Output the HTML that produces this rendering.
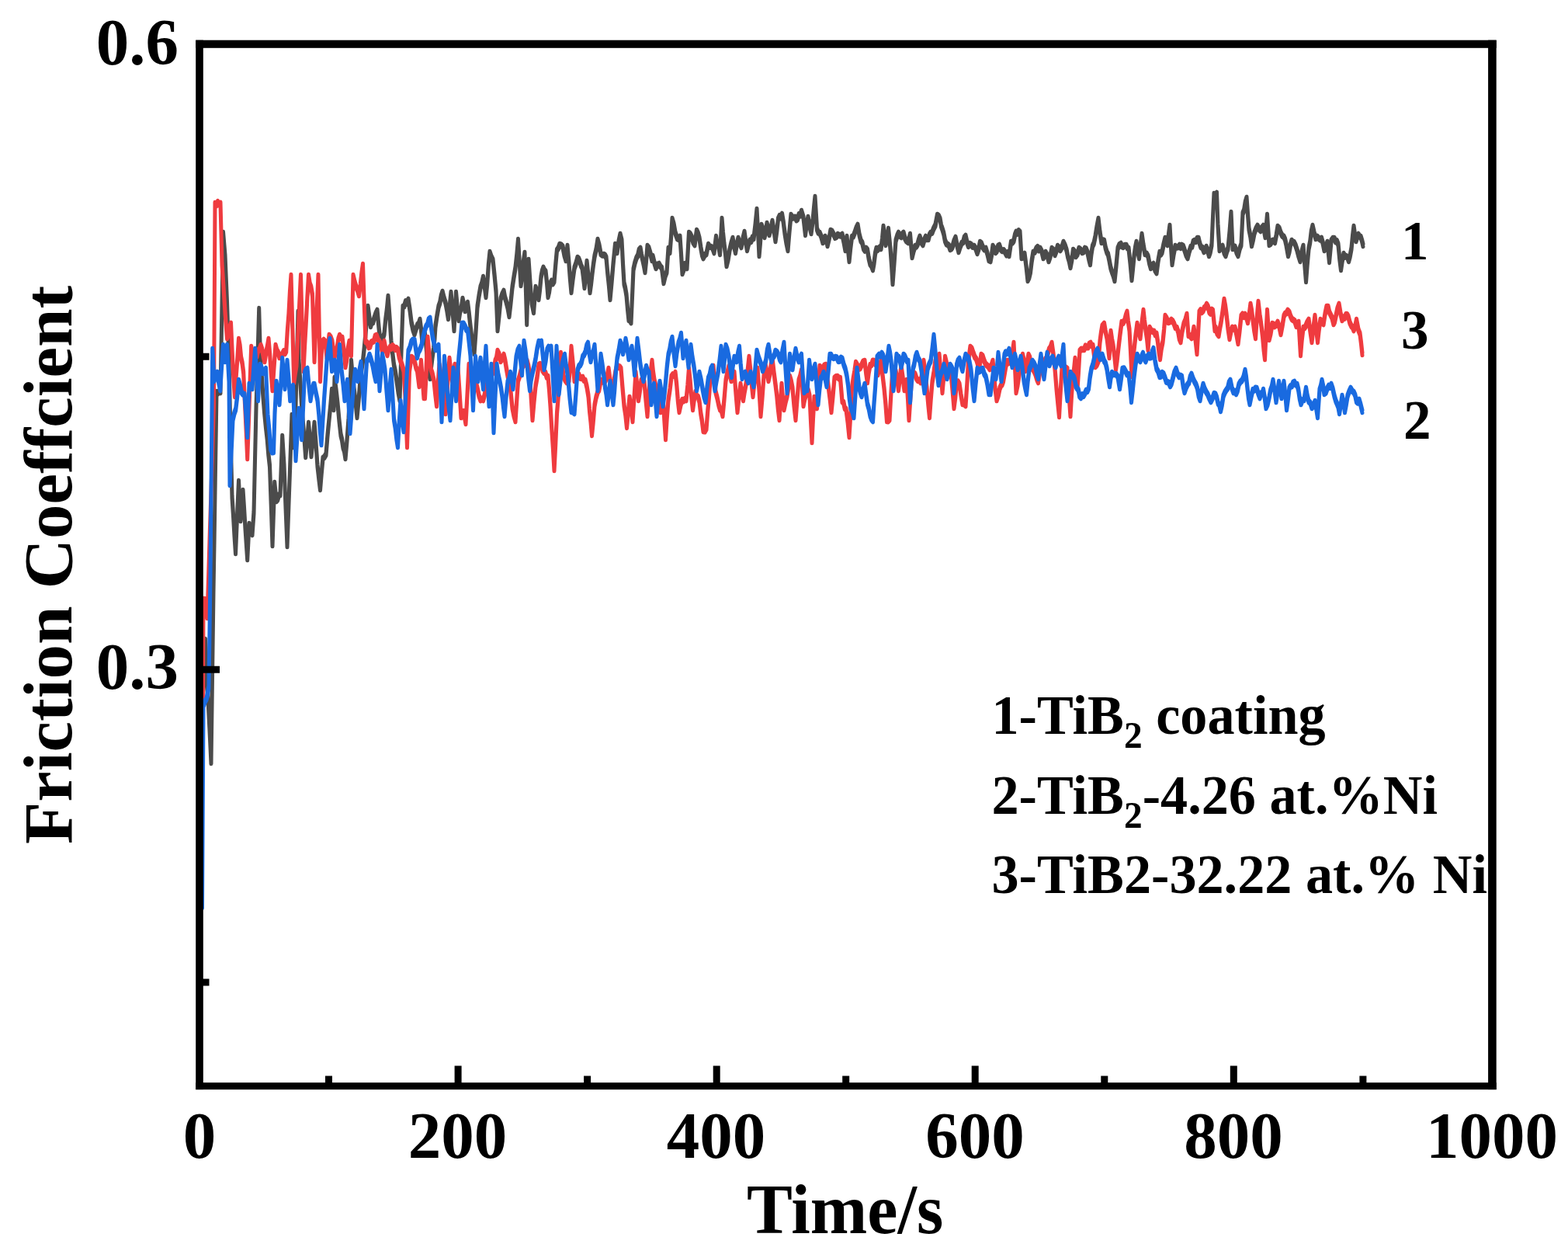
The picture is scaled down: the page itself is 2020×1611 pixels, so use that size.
<!DOCTYPE html>
<html><head><meta charset="utf-8">
<style>
html,body{margin:0;padding:0;background:#fff;}
body{width:2020px;height:1611px;overflow:hidden;}
svg{display:block;}
text{font-family:"Liberation Serif","Times New Roman",serif;font-weight:bold;fill:#000;}
</style></head><body>
<svg width="2020" height="1611" viewBox="0 0 2020 1611">
<rect width="2020" height="1611" fill="#fff"/>
<!-- DATA -->
<g fill="none" stroke-width="5.0" stroke-linejoin="round" stroke-linecap="round">
<path stroke="#4b4b4b" d="M261.5,898.2 263.0,858.9 264.5,822.2 266.2,861.2 268.0,898.2 270.0,937.4 272.0,980.2 273.5,870.0 275.0,758.2 276.0,698.2 277.5,599.1 279.0,503.2 280.7,504.5 282.3,502.4 284.0,503.2 285.8,402.3 287.5,298.2 290.0,328.2 292.5,388.2 295.0,463.2 297.0,558.2 299.0,638.2 300.5,661.4 302.0,687.6 303.5,710.2 305.5,663.4 307.5,618.2 310.0,668.2 311.5,650.1 313.0,630.2 314.5,652.8 316.0,678.2 318.7,718.2 321.0,673.2 323.0,681.8 325.0,686.2 327.0,658.2 328.5,589.8 330.0,523.2 331.9,460.8 333.7,396.2 335.5,460.2 337.1,480.9 338.7,505.2 340.6,529.0 342.5,548.2 344.2,563.2 345.8,582.9 347.5,598.2 349.2,646.8 351.0,700.2 353.7,620.2 356.0,643.2 357.7,641.3 359.3,635.7 361.0,635.2 363.7,560.2 366.0,598.2 368.0,650.9 370.0,701.2 371.9,648.7 373.7,598.2 376.0,533.2 377.5,573.2 380.0,558.2 382.0,480.1 384.0,400.2 385.0,463.2 386.7,487.0 388.3,515.3 390.0,538.2 391.9,561.2 393.7,586.2 395.6,566.4 397.5,543.2 399.2,562.4 401.0,585.2 403.0,565.5 405.0,543.2 407.0,569.1 409.0,598.2 410.8,614.0 412.5,628.2 414.2,607.4 416.0,588.2 418.0,586.8 420.0,583.2 422.0,558.8 424.0,538.2 425.8,520.6 427.5,500.2 430.0,525.2 431.0,485.2 433.0,500.5 435.0,518.2 437.0,539.9 439.0,558.2 440.5,564.2 442.0,574.4 443.5,578.6 445.0,588.2 447.0,565.1 449.0,538.2 450.8,499.6 452.5,463.2 454.2,482.4 456.0,498.2 458.0,515.1 460.0,535.2 462.0,513.9 464.0,488.2 465.8,473.8 467.5,463.2 469.2,446.9 471.0,428.2 472.5,408.3 474.0,393.2 475.8,406.6 477.5,418.2 479.0,413.4 480.5,413.5 482.0,408.2 484.0,402.2 486.0,398.2 488.0,419.7 490.0,438.2 491.7,434.1 493.3,433.4 495.0,428.2 496.7,410.2 498.3,397.9 500.0,380.2 502.0,407.0 504.0,438.2 505.8,454.4 507.5,468.2 509.2,476.3 511.0,488.2 513.0,502.4 515.0,513.2 517.0,451.5 519.0,393.2 520.8,392.4 522.5,386.6 524.2,388.8 526.0,384.2 528.0,397.2 530.0,413.2 532.0,422.5 534.0,428.2 536.0,421.4 538.0,416.2 539.5,415.1 541.0,410.2 542.5,422.4 544.0,438.2 545.8,435.6 547.5,428.2 549.2,446.1 551.0,468.2 552.5,477.9 554.0,485.2 555.5,470.3 557.0,458.2 558.5,447.5 560.0,433.2 561.0,418.2 563.0,404.9 565.0,393.2 566.7,388.4 568.3,379.5 570.0,374.2 572.0,382.1 574.0,388.2 575.8,397.4 577.5,408.2 579.2,393.7 581.0,375.2 583.0,398.3 585.0,423.2 587.5,375.2 589.2,393.8 591.0,410.2 592.7,399.8 594.3,394.4 596.0,383.2 597.5,389.8 599.0,398.2 600.8,394.7 602.5,388.2 604.2,401.6 606.0,418.2 607.7,432.1 609.3,439.4 611.0,453.2 613.0,425.4 615.0,393.2 617.0,379.5 619.0,368.2 620.8,363.1 622.5,355.2 624.2,366.4 626.0,380.2 627.7,363.4 629.3,339.9 631.0,323.2 633.0,329.2 635.0,333.2 637.0,352.2 639.0,373.2 641.0,423.2 643.0,404.3 645.0,383.2 647.0,377.1 649.0,373.2 650.5,381.2 652.0,386.2 654.0,394.0 656.0,405.2 658.0,387.9 660.0,368.2 662.0,355.0 664.0,343.2 665.8,326.6 667.5,307.2 669.2,334.9 671.0,365.2 672.7,353.2 674.3,335.5 676.0,324.2 678.7,415.2 681.0,333.2 683.0,362.6 685.0,388.2 687.5,400.2 690.0,368.2 692.0,374.1 694.0,383.2 695.5,371.0 697.0,355.2 698.5,347.3 700.0,343.2 701.5,346.5 703.0,348.2 704.5,362.0 706.0,380.2 707.5,373.7 709.0,363.2 710.7,360.0 712.3,363.3 714.0,360.2 715.8,338.8 717.5,320.2 719.2,318.1 721.0,313.2 723.0,313.8 725.0,316.2 727.0,326.5 729.0,333.2 731.0,315.2 732.7,334.0 734.3,355.4 736.0,374.2 738.0,357.6 740.0,343.2 742.0,337.7 744.0,330.2 745.5,331.4 747.0,335.2 748.5,340.0 750.0,343.2 751.5,355.0 753.0,368.2 754.5,352.7 756.0,335.2 758.0,353.8 760.0,374.2 761.5,363.5 763.0,350.2 764.5,338.4 766.0,328.2 768.0,319.9 770.0,307.2 772.0,314.4 774.0,325.2 776.0,326.7 778.0,326.2 779.5,327.1 781.0,330.2 782.7,349.2 784.3,364.2 786.0,383.2 788.0,361.6 790.0,338.2 792.5,313.2 795.0,323.2 797.0,309.6 799.0,300.2 801.0,308.2 802.5,338.1 804.0,363.2 805.5,369.2 807.0,378.2 808.5,395.7 810.0,410.2 811.5,410.8 813.0,413.2 814.5,380.1 816.0,345.2 818.0,336.4 820.0,330.2 821.7,327.4 823.3,320.1 825.0,318.2 826.5,326.7 828.0,333.2 829.5,339.9 831.0,348.2 832.5,334.0 834.0,315.2 835.8,317.6 837.5,323.2 840.0,333.2 841.0,328.2 843.0,336.7 845.0,343.2 847.0,339.1 849.0,338.2 850.8,341.5 852.5,343.2 855.0,362.2 857.0,353.6 859.0,348.2 861.0,318.2 863.0,323.2 864.5,304.1 866.0,280.2 868.0,287.0 870.0,298.2 872.5,305.2 874.2,306.1 876.0,303.2 877.5,325.5 879.0,350.2 880.8,345.5 882.5,338.2 885.0,343.2 887.5,298.2 889.2,299.7 891.0,303.2 893.0,310.2 895.0,313.2 897.5,295.2 899.2,298.6 901.0,305.2 903.0,318.2 904.5,326.2 906.0,330.2 908.0,326.4 910.0,325.2 912.5,313.2 914.2,315.8 916.0,316.2 918.0,317.6 920.0,323.2 922.5,303.2 924.2,312.9 925.8,315.7 927.5,325.2 930.0,280.2 931.5,298.8 933.0,313.2 934.5,324.6 936.0,340.2 938.0,332.2 940.0,320.2 942.0,311.6 944.0,305.2 945.8,315.8 947.5,323.2 949.2,312.9 951.0,305.2 953.0,311.5 955.0,316.2 957.0,305.9 959.0,297.2 960.8,309.9 962.5,320.2 964.2,313.0 966.0,308.2 967.7,309.1 969.3,303.9 971.0,305.2 973.0,288.2 975.0,268.2 976.5,295.4 978.0,327.2 979.5,310.1 981.0,288.2 983.0,293.4 985.0,303.2 986.5,296.0 988.0,286.2 989.5,292.1 991.0,300.2 993.0,292.8 995.0,283.2 997.0,294.6 999.0,308.2 1000.8,295.3 1002.5,280.2 1004.2,276.4 1005.8,278.4 1007.5,274.2 1009.2,284.1 1011.0,298.2 1013.0,310.7 1015.0,320.2 1017.0,295.9 1019.0,275.2 1021.0,278.8 1023.0,278.2 1024.5,278.0 1026.0,281.4 1027.5,280.2 1029.2,274.6 1030.8,275.6 1032.5,270.2 1035.0,278.2 1037.5,300.2 1039.2,287.2 1041.0,278.2 1043.0,289.7 1045.0,298.2 1047.0,283.2 1048.5,266.7 1050.0,252.2 1052.5,293.2 1054.2,297.7 1056.0,298.2 1058.0,302.9 1060.0,310.2 1061.5,308.8 1063.0,303.2 1064.5,306.3 1066.0,314.2 1068.0,306.1 1070.0,295.2 1072.0,296.3 1074.0,300.2 1075.8,304.0 1077.5,303.2 1079.2,300.3 1081.0,301.2 1083.0,301.7 1085.0,300.2 1087.0,309.3 1089.0,320.2 1091.0,303.2 1092.5,319.7 1094.0,334.2 1095.8,316.5 1097.5,303.2 1099.2,302.8 1101.0,298.2 1103.0,292.2 1105.0,288.2 1107.0,300.3 1109.0,308.2 1110.8,310.8 1112.5,318.2 1114.2,320.7 1115.8,318.2 1117.5,320.2 1119.2,330.8 1121.0,338.2 1122.8,340.8 1124.5,345.2 1126.0,336.9 1127.5,324.8 1129.0,318.2 1130.5,320.0 1132.0,318.2 1133.5,316.6 1135.0,318.2 1136.5,306.5 1138.0,290.2 1139.5,300.3 1141.0,313.2 1142.8,305.4 1144.5,293.2 1147.0,318.2 1148.5,338.6 1150.0,363.2 1152.0,336.8 1154.0,308.2 1155.8,302.1 1157.5,298.2 1159.2,301.9 1161.0,303.2 1162.5,299.6 1164.0,298.2 1165.8,304.9 1167.5,308.2 1170.0,310.2 1172.5,300.2 1175.0,329.2 1177.0,321.0 1179.0,315.2 1180.5,315.6 1182.0,313.2 1183.5,307.3 1185.0,303.2 1187.0,310.4 1189.0,313.2 1190.8,306.9 1192.5,303.2 1194.2,306.2 1196.0,306.2 1197.5,300.5 1199.0,298.2 1200.8,297.9 1202.5,293.2 1205.0,288.2 1207.5,275.2 1209.2,276.3 1211.0,280.2 1212.5,289.0 1214.0,293.2 1215.8,299.1 1217.5,308.2 1219.2,312.3 1221.0,313.2 1222.5,314.6 1224.0,319.2 1225.5,318.5 1227.0,316.2 1229.0,308.7 1231.0,304.2 1233.0,314.2 1235.0,322.2 1237.0,316.0 1239.0,311.2 1240.7,310.3 1242.3,304.2 1244.0,302.2 1245.8,310.2 1247.5,315.2 1249.2,312.3 1251.0,313.2 1253.0,315.9 1255.0,315.2 1257.0,318.4 1259.0,324.2 1260.8,318.8 1262.5,310.2 1264.2,311.5 1266.0,316.2 1268.0,319.2 1270.0,318.2 1272.0,324.8 1274.0,333.2 1276.0,334.2 1277.5,326.4 1279.0,315.2 1280.8,318.1 1282.5,323.2 1284.2,321.4 1285.8,315.2 1287.5,314.2 1289.2,319.3 1291.0,321.2 1293.0,320.5 1295.0,323.2 1296.7,326.5 1298.3,323.6 1300.0,327.2 1302.5,310.2 1304.2,310.7 1306.0,308.2 1307.5,301.0 1309.0,297.2 1310.7,298.8 1312.3,295.6 1314.0,297.2 1316.0,330.2 1318.0,329.6 1320.0,325.2 1322.0,340.7 1324.0,359.2 1325.8,355.3 1327.5,348.2 1329.2,334.2 1331.0,323.2 1333.0,323.0 1335.0,318.2 1336.7,316.3 1338.3,320.4 1340.0,318.2 1342.0,321.9 1344.0,330.2 1345.5,327.9 1347.0,323.2 1349.0,327.0 1351.0,334.2 1353.0,328.5 1355.0,318.2 1357.0,320.1 1359.0,326.2 1360.8,321.7 1362.5,315.2 1364.2,316.8 1366.0,320.2 1368.0,316.7 1370.0,310.2 1372.0,314.4 1374.0,320.2 1375.7,328.7 1377.3,334.0 1379.0,342.2 1380.8,333.0 1382.5,320.2 1384.2,322.2 1386.0,328.2 1388.0,325.4 1390.0,318.2 1392.0,319.7 1394.0,323.2 1395.8,322.6 1397.5,318.2 1399.2,318.9 1401.0,323.2 1402.8,331.7 1404.5,338.2 1406.0,324.5 1407.5,315.2 1409.2,311.5 1411.0,303.2 1413.0,290.6 1415.0,280.2 1417.0,297.5 1419.0,310.2 1420.8,307.8 1422.5,308.2 1424.2,317.2 1426.0,323.2 1427.5,325.8 1429.0,333.2 1430.8,342.8 1432.5,348.2 1434.2,352.7 1436.0,359.2 1438.0,340.1 1440.0,318.2 1442.0,313.6 1444.0,312.2 1445.5,315.5 1447.0,316.2 1449.0,314.2 1451.0,314.2 1452.5,317.5 1454.0,318.2 1456.0,336.3 1458.0,358.2 1459.5,344.0 1461.0,328.2 1462.5,317.5 1464.0,310.2 1465.8,321.7 1467.5,330.2 1469.2,314.4 1471.0,300.2 1473.0,314.0 1475.0,325.2 1477.0,324.9 1479.0,328.2 1480.8,337.3 1482.5,343.2 1484.2,339.9 1486.0,338.2 1488.0,346.1 1490.0,349.2 1492.0,334.2 1494.0,323.2 1495.5,325.6 1497.0,323.2 1499.0,313.3 1501.0,305.2 1502.5,310.4 1504.0,313.2 1505.5,300.4 1507.0,289.2 1508.5,315.7 1510.0,338.2 1512.0,325.5 1514.0,315.2 1516.0,316.6 1518.0,316.2 1519.5,314.1 1521.0,317.1 1522.5,314.2 1524.2,315.1 1526.0,320.2 1528.0,326.4 1530.0,330.2 1532.0,322.2 1534.0,316.2 1535.7,315.8 1537.3,309.2 1539.0,308.2 1540.7,309.1 1542.3,305.3 1544.0,305.2 1545.5,311.5 1547.0,316.2 1549.0,317.3 1551.0,322.2 1552.5,320.6 1554.0,316.2 1555.8,320.9 1557.5,327.2 1559.2,322.5 1561.0,313.2 1562.5,278.9 1564.0,248.2 1565.8,249.8 1567.5,247.2 1569.0,288.2 1571.0,320.2 1573.0,316.8 1575.0,315.2 1577.0,323.4 1579.0,327.2 1580.5,321.9 1582.0,318.2 1584.0,297.4 1586.0,272.2 1588.0,318.2 1589.5,315.7 1591.0,316.2 1593.0,323.0 1595.0,327.2 1597.0,318.6 1599.0,313.2 1601.0,273.2 1602.7,268.8 1604.3,258.7 1606.0,253.2 1607.5,274.1 1609.0,293.2 1610.8,302.1 1612.5,314.2 1614.2,307.3 1616.0,298.2 1618.0,292.8 1620.0,289.2 1622.0,293.2 1624.0,295.2 1625.8,291.4 1627.5,289.2 1630.0,303.2 1632.5,275.2 1635.0,313.2 1637.0,311.8 1639.0,308.2 1640.8,308.0 1642.5,310.2 1644.2,301.4 1646.0,290.2 1648.0,292.2 1650.0,298.2 1652.0,301.9 1654.0,303.2 1655.5,306.6 1657.0,313.2 1659.5,327.2 1661.0,321.9 1662.5,313.2 1664.0,308.2 1665.5,310.0 1667.0,310.2 1669.0,314.1 1671.0,320.2 1673.0,327.9 1675.0,334.2 1677.0,322.7 1679.0,315.2 1680.8,339.3 1682.5,360.2 1684.2,338.2 1686.0,318.2 1687.7,310.1 1689.3,296.6 1691.0,289.2 1693.0,298.1 1695.0,305.2 1697.0,303.1 1699.0,305.2 1700.8,306.6 1702.5,305.2 1704.2,311.1 1706.0,320.2 1708.0,317.3 1710.0,310.2 1712.5,335.2 1715.0,308.2 1717.0,305.3 1719.0,305.2 1720.7,309.4 1722.3,308.7 1724.0,313.2 1725.8,331.6 1727.5,345.2 1729.2,333.9 1731.0,325.2 1732.5,328.8 1734.0,328.2 1735.8,329.3 1737.5,334.2 1739.2,328.0 1741.0,318.2 1742.5,302.8 1744.0,290.2 1745.5,300.5 1747.0,308.2 1748.5,303.4 1750.0,300.2 1751.5,302.6 1753.0,303.2 1754.5,307.9 1756.0,314.2 M261.5,901.8 263.0,862.5 264.5,825.8 266.2,864.8 268.0,901.8 270.0,941.0 272.0,983.8 273.5,873.6 275.0,761.8 276.0,701.8 277.5,602.7 279.0,506.8 280.7,508.1 282.3,506.0 284.0,506.8 285.8,405.9 287.5,301.8 290.0,331.8 292.5,391.8 295.0,466.8 297.0,561.8 299.0,641.8 300.5,665.0 302.0,691.2 303.5,713.8 305.5,667.0 307.5,621.8 310.0,671.8 311.5,653.7 313.0,633.8 314.5,656.4 316.0,681.8 318.7,721.8 321.0,676.8 323.0,685.4 325.0,689.8 327.0,661.8 328.5,593.4 330.0,526.8 331.9,464.4 333.7,399.8 335.5,463.8 337.1,484.5 338.7,508.8 340.6,532.6 342.5,551.8 344.2,566.8 345.8,586.5 347.5,601.8 349.2,650.4 351.0,703.8 353.7,623.8 356.0,646.8 357.7,644.9 359.3,639.3 361.0,638.8 363.7,563.8 366.0,601.8 368.0,654.5 370.0,704.8 371.9,652.3 373.7,601.8 376.0,536.8 377.5,576.8 380.0,561.8 382.0,483.7 384.0,403.8 385.0,466.8 386.7,490.6 388.3,518.9 390.0,541.8 391.9,564.8 393.7,589.8 395.6,570.0 397.5,546.8 399.2,566.0 401.0,588.8 403.0,569.1 405.0,546.8 407.0,572.7 409.0,601.8 410.8,617.6 412.5,631.8 414.2,611.0 416.0,591.8 418.0,590.4 420.0,586.8 422.0,562.4 424.0,541.8 425.8,524.2 427.5,503.8 430.0,528.8 431.0,488.8 433.0,504.1 435.0,521.8 437.0,543.5 439.0,561.8 440.5,567.8 442.0,578.0 443.5,582.2 445.0,591.8 447.0,568.7 449.0,541.8 450.8,503.2 452.5,466.8 454.2,486.0 456.0,501.8 458.0,518.7 460.0,538.8 462.0,517.5 464.0,491.8 465.8,477.4 467.5,466.8 469.2,450.5 471.0,431.8 472.5,411.9 474.0,396.8 475.8,410.2 477.5,421.8 479.0,417.0 480.5,417.1 482.0,411.8 484.0,405.8 486.0,401.8 488.0,423.3 490.0,441.8 491.7,437.7 493.3,437.0 495.0,431.8 496.7,413.8 498.3,401.5 500.0,383.8 502.0,410.6 504.0,441.8 505.8,458.0 507.5,471.8 509.2,479.9 511.0,491.8 513.0,506.0 515.0,516.8 517.0,455.1 519.0,396.8 520.8,396.0 522.5,390.2 524.2,392.4 526.0,387.8 528.0,400.8 530.0,416.8 532.0,426.1 534.0,431.8 536.0,425.0 538.0,419.8 539.5,418.7 541.0,413.8 542.5,426.0 544.0,441.8 545.8,439.2 547.5,431.8 549.2,449.7 551.0,471.8 552.5,481.5 554.0,488.8 555.5,473.9 557.0,461.8 558.5,451.1 560.0,436.8 561.0,421.8 563.0,408.5 565.0,396.8 566.7,392.0 568.3,383.1 570.0,377.8 572.0,385.7 574.0,391.8 575.8,401.0 577.5,411.8 579.2,397.3 581.0,378.8 583.0,401.9 585.0,426.8 587.5,378.8 589.2,397.4 591.0,413.8 592.7,403.4 594.3,398.0 596.0,386.8 597.5,393.4 599.0,401.8 600.8,398.3 602.5,391.8 604.2,405.2 606.0,421.8 607.7,435.7 609.3,443.0 611.0,456.8 613.0,429.0 615.0,396.8 617.0,383.1 619.0,371.8 620.8,366.7 622.5,358.8 624.2,370.0 626.0,383.8 627.7,367.0 629.3,343.5 631.0,326.8 633.0,332.8 635.0,336.8 637.0,355.8 639.0,376.8 641.0,426.8 643.0,407.9 645.0,386.8 647.0,380.7 649.0,376.8 650.5,384.8 652.0,389.8 654.0,397.6 656.0,408.8 658.0,391.5 660.0,371.8 662.0,358.6 664.0,346.8 665.8,330.2 667.5,310.8 669.2,338.5 671.0,368.8 672.7,356.8 674.3,339.1 676.0,327.8 678.7,418.8 681.0,336.8 683.0,366.2 685.0,391.8 687.5,403.8 690.0,371.8 692.0,377.7 694.0,386.8 695.5,374.6 697.0,358.8 698.5,350.9 700.0,346.8 701.5,350.1 703.0,351.8 704.5,365.6 706.0,383.8 707.5,377.3 709.0,366.8 710.7,363.6 712.3,366.9 714.0,363.8 715.8,342.4 717.5,323.8 719.2,321.7 721.0,316.8 723.0,317.4 725.0,319.8 727.0,330.1 729.0,336.8 731.0,318.8 732.7,337.6 734.3,359.0 736.0,377.8 738.0,361.2 740.0,346.8 742.0,341.3 744.0,333.8 745.5,335.0 747.0,338.8 748.5,343.6 750.0,346.8 751.5,358.6 753.0,371.8 754.5,356.3 756.0,338.8 758.0,357.4 760.0,377.8 761.5,367.1 763.0,353.8 764.5,342.0 766.0,331.8 768.0,323.5 770.0,310.8 772.0,318.0 774.0,328.8 776.0,330.3 778.0,329.8 779.5,330.7 781.0,333.8 782.7,352.8 784.3,367.8 786.0,386.8 788.0,365.2 790.0,341.8 792.5,316.8 795.0,326.8 797.0,313.2 799.0,303.8 801.0,311.8 802.5,341.7 804.0,366.8 805.5,372.8 807.0,381.8 808.5,399.3 810.0,413.8 811.5,414.4 813.0,416.8 814.5,383.7 816.0,348.8 818.0,340.0 820.0,333.8 821.7,331.0 823.3,323.7 825.0,321.8 826.5,330.3 828.0,336.8 829.5,343.5 831.0,351.8 832.5,337.6 834.0,318.8 835.8,321.2 837.5,326.8 840.0,336.8 841.0,331.8 843.0,340.3 845.0,346.8 847.0,342.7 849.0,341.8 850.8,345.1 852.5,346.8 855.0,365.8 857.0,357.2 859.0,351.8 861.0,321.8 863.0,326.8 864.5,307.7 866.0,283.8 868.0,290.6 870.0,301.8 872.5,308.8 874.2,309.7 876.0,306.8 877.5,329.1 879.0,353.8 880.8,349.1 882.5,341.8 885.0,346.8 887.5,301.8 889.2,303.3 891.0,306.8 893.0,313.8 895.0,316.8 897.5,298.8 899.2,302.2 901.0,308.8 903.0,321.8 904.5,329.8 906.0,333.8 908.0,330.0 910.0,328.8 912.5,316.8 914.2,319.4 916.0,319.8 918.0,321.2 920.0,326.8 922.5,306.8 924.2,316.5 925.8,319.3 927.5,328.8 930.0,283.8 931.5,302.4 933.0,316.8 934.5,328.2 936.0,343.8 938.0,335.8 940.0,323.8 942.0,315.2 944.0,308.8 945.8,319.4 947.5,326.8 949.2,316.5 951.0,308.8 953.0,315.1 955.0,319.8 957.0,309.5 959.0,300.8 960.8,313.5 962.5,323.8 964.2,316.6 966.0,311.8 967.7,312.7 969.3,307.5 971.0,308.8 973.0,291.8 975.0,271.8 976.5,299.0 978.0,330.8 979.5,313.7 981.0,291.8 983.0,297.0 985.0,306.8 986.5,299.6 988.0,289.8 989.5,295.7 991.0,303.8 993.0,296.4 995.0,286.8 997.0,298.2 999.0,311.8 1000.8,298.9 1002.5,283.8 1004.2,280.0 1005.8,282.0 1007.5,277.8 1009.2,287.7 1011.0,301.8 1013.0,314.3 1015.0,323.8 1017.0,299.5 1019.0,278.8 1021.0,282.4 1023.0,281.8 1024.5,281.6 1026.0,285.0 1027.5,283.8 1029.2,278.2 1030.8,279.2 1032.5,273.8 1035.0,281.8 1037.5,303.8 1039.2,290.8 1041.0,281.8 1043.0,293.3 1045.0,301.8 1047.0,286.8 1048.5,270.3 1050.0,255.8 1052.5,296.8 1054.2,301.3 1056.0,301.8 1058.0,306.5 1060.0,313.8 1061.5,312.4 1063.0,306.8 1064.5,309.9 1066.0,317.8 1068.0,309.7 1070.0,298.8 1072.0,299.9 1074.0,303.8 1075.8,307.6 1077.5,306.8 1079.2,303.9 1081.0,304.8 1083.0,305.3 1085.0,303.8 1087.0,312.9 1089.0,323.8 1091.0,306.8 1092.5,323.3 1094.0,337.8 1095.8,320.1 1097.5,306.8 1099.2,306.4 1101.0,301.8 1103.0,295.8 1105.0,291.8 1107.0,303.9 1109.0,311.8 1110.8,314.4 1112.5,321.8 1114.2,324.3 1115.8,321.8 1117.5,323.8 1119.2,334.4 1121.0,341.8 1122.8,344.4 1124.5,348.8 1126.0,340.5 1127.5,328.4 1129.0,321.8 1130.5,323.6 1132.0,321.8 1133.5,320.2 1135.0,321.8 1136.5,310.1 1138.0,293.8 1139.5,303.9 1141.0,316.8 1142.8,309.0 1144.5,296.8 1147.0,321.8 1148.5,342.2 1150.0,366.8 1152.0,340.4 1154.0,311.8 1155.8,305.7 1157.5,301.8 1159.2,305.5 1161.0,306.8 1162.5,303.2 1164.0,301.8 1165.8,308.5 1167.5,311.8 1170.0,313.8 1172.5,303.8 1175.0,332.8 1177.0,324.6 1179.0,318.8 1180.5,319.2 1182.0,316.8 1183.5,310.9 1185.0,306.8 1187.0,314.0 1189.0,316.8 1190.8,310.5 1192.5,306.8 1194.2,309.8 1196.0,309.8 1197.5,304.1 1199.0,301.8 1200.8,301.5 1202.5,296.8 1205.0,291.8 1207.5,278.8 1209.2,279.9 1211.0,283.8 1212.5,292.6 1214.0,296.8 1215.8,302.7 1217.5,311.8 1219.2,315.9 1221.0,316.8 1222.5,318.2 1224.0,322.8 1225.5,322.1 1227.0,319.8 1229.0,312.3 1231.0,307.8 1233.0,317.8 1235.0,325.8 1237.0,319.6 1239.0,314.8 1240.7,313.9 1242.3,307.8 1244.0,305.8 1245.8,313.8 1247.5,318.8 1249.2,315.9 1251.0,316.8 1253.0,319.5 1255.0,318.8 1257.0,322.0 1259.0,327.8 1260.8,322.4 1262.5,313.8 1264.2,315.1 1266.0,319.8 1268.0,322.8 1270.0,321.8 1272.0,328.4 1274.0,336.8 1276.0,337.8 1277.5,330.0 1279.0,318.8 1280.8,321.7 1282.5,326.8 1284.2,325.0 1285.8,318.8 1287.5,317.8 1289.2,322.9 1291.0,324.8 1293.0,324.1 1295.0,326.8 1296.7,330.1 1298.3,327.2 1300.0,330.8 1302.5,313.8 1304.2,314.3 1306.0,311.8 1307.5,304.6 1309.0,300.8 1310.7,302.4 1312.3,299.2 1314.0,300.8 1316.0,333.8 1318.0,333.2 1320.0,328.8 1322.0,344.3 1324.0,362.8 1325.8,358.9 1327.5,351.8 1329.2,337.8 1331.0,326.8 1333.0,326.6 1335.0,321.8 1336.7,319.9 1338.3,324.0 1340.0,321.8 1342.0,325.5 1344.0,333.8 1345.5,331.5 1347.0,326.8 1349.0,330.6 1351.0,337.8 1353.0,332.1 1355.0,321.8 1357.0,323.7 1359.0,329.8 1360.8,325.3 1362.5,318.8 1364.2,320.4 1366.0,323.8 1368.0,320.3 1370.0,313.8 1372.0,318.0 1374.0,323.8 1375.7,332.3 1377.3,337.6 1379.0,345.8 1380.8,336.6 1382.5,323.8 1384.2,325.8 1386.0,331.8 1388.0,329.0 1390.0,321.8 1392.0,323.3 1394.0,326.8 1395.8,326.2 1397.5,321.8 1399.2,322.5 1401.0,326.8 1402.8,335.3 1404.5,341.8 1406.0,328.1 1407.5,318.8 1409.2,315.1 1411.0,306.8 1413.0,294.2 1415.0,283.8 1417.0,301.1 1419.0,313.8 1420.8,311.4 1422.5,311.8 1424.2,320.8 1426.0,326.8 1427.5,329.4 1429.0,336.8 1430.8,346.4 1432.5,351.8 1434.2,356.3 1436.0,362.8 1438.0,343.7 1440.0,321.8 1442.0,317.2 1444.0,315.8 1445.5,319.1 1447.0,319.8 1449.0,317.8 1451.0,317.8 1452.5,321.1 1454.0,321.8 1456.0,339.9 1458.0,361.8 1459.5,347.6 1461.0,331.8 1462.5,321.1 1464.0,313.8 1465.8,325.3 1467.5,333.8 1469.2,318.0 1471.0,303.8 1473.0,317.6 1475.0,328.8 1477.0,328.5 1479.0,331.8 1480.8,340.9 1482.5,346.8 1484.2,343.5 1486.0,341.8 1488.0,349.7 1490.0,352.8 1492.0,337.8 1494.0,326.8 1495.5,329.2 1497.0,326.8 1499.0,316.9 1501.0,308.8 1502.5,314.0 1504.0,316.8 1505.5,304.0 1507.0,292.8 1508.5,319.3 1510.0,341.8 1512.0,329.1 1514.0,318.8 1516.0,320.2 1518.0,319.8 1519.5,317.7 1521.0,320.7 1522.5,317.8 1524.2,318.7 1526.0,323.8 1528.0,330.0 1530.0,333.8 1532.0,325.8 1534.0,319.8 1535.7,319.4 1537.3,312.8 1539.0,311.8 1540.7,312.7 1542.3,308.9 1544.0,308.8 1545.5,315.1 1547.0,319.8 1549.0,320.9 1551.0,325.8 1552.5,324.2 1554.0,319.8 1555.8,324.5 1557.5,330.8 1559.2,326.1 1561.0,316.8 1562.5,282.5 1564.0,251.8 1565.8,253.4 1567.5,250.8 1569.0,291.8 1571.0,323.8 1573.0,320.4 1575.0,318.8 1577.0,327.0 1579.0,330.8 1580.5,325.5 1582.0,321.8 1584.0,301.0 1586.0,275.8 1588.0,321.8 1589.5,319.3 1591.0,319.8 1593.0,326.6 1595.0,330.8 1597.0,322.2 1599.0,316.8 1601.0,276.8 1602.7,272.4 1604.3,262.3 1606.0,256.8 1607.5,277.7 1609.0,296.8 1610.8,305.7 1612.5,317.8 1614.2,310.9 1616.0,301.8 1618.0,296.4 1620.0,292.8 1622.0,296.8 1624.0,298.8 1625.8,295.0 1627.5,292.8 1630.0,306.8 1632.5,278.8 1635.0,316.8 1637.0,315.4 1639.0,311.8 1640.8,311.6 1642.5,313.8 1644.2,305.0 1646.0,293.8 1648.0,295.8 1650.0,301.8 1652.0,305.5 1654.0,306.8 1655.5,310.2 1657.0,316.8 1659.5,330.8 1661.0,325.5 1662.5,316.8 1664.0,311.8 1665.5,313.6 1667.0,313.8 1669.0,317.7 1671.0,323.8 1673.0,331.5 1675.0,337.8 1677.0,326.3 1679.0,318.8 1680.8,342.9 1682.5,363.8 1684.2,341.8 1686.0,321.8 1687.7,313.7 1689.3,300.2 1691.0,292.8 1693.0,301.7 1695.0,308.8 1697.0,306.7 1699.0,308.8 1700.8,310.2 1702.5,308.8 1704.2,314.7 1706.0,323.8 1708.0,320.9 1710.0,313.8 1712.5,338.8 1715.0,311.8 1717.0,308.9 1719.0,308.8 1720.7,313.0 1722.3,312.3 1724.0,316.8 1725.8,335.2 1727.5,348.8 1729.2,337.5 1731.0,328.8 1732.5,332.4 1734.0,331.8 1735.8,332.9 1737.5,337.8 1739.2,331.6 1741.0,321.8 1742.5,306.4 1744.0,293.8 1745.5,304.1 1747.0,311.8 1748.5,307.0 1750.0,303.8 1751.5,306.2 1753.0,306.8 1754.5,311.5 1756.0,317.8"/>
<path stroke="#ef3b3f" d="M261.5,906.2 262.0,770.2 263.8,770.2 265.5,774.2 267.0,793.2 268.7,739.3 270.4,682.2 272.1,629.1 273.8,571.1 275.5,518.2 277.0,260.2 278.8,262.4 280.5,258.4 282.2,261.4 284.0,260.2 286.0,338.2 288.0,368.1 290.0,400.2 292.5,433.2 294.2,428.4 295.8,419.7 297.5,415.2 299.2,452.7 301.0,488.2 302.5,508.2 304.2,482.4 305.8,460.7 307.5,435.2 309.1,443.6 310.6,459.1 312.1,465.8 313.7,478.2 315.4,516.0 317.0,549.2 318.7,588.2 320.4,541.8 322.0,491.5 323.7,445.2 325.6,454.9 327.5,463.2 329.2,457.8 330.9,456.7 332.6,449.6 334.3,448.3 336.0,443.2 337.7,448.3 339.3,457.3 341.0,463.2 342.7,452.7 344.3,445.4 346.0,435.2 347.7,455.5 349.3,479.3 351.0,500.2 353.0,470.9 355.0,443.2 356.7,449.4 358.3,452.1 360.0,458.2 362.0,457.4 364.0,453.2 365.6,450.6 367.1,453.2 368.7,450.2 370.3,424.1 371.9,403.6 373.4,375.3 375.0,353.2 376.9,423.1 378.7,490.2 380.4,477.9 382.0,468.2 383.8,432.2 385.7,390.6 387.5,353.2 389.2,416.1 391.0,475.2 392.6,442.9 394.2,415.0 395.9,381.6 397.5,353.2 399.2,363.8 400.8,368.1 402.5,378.2 405.0,463.2 407.0,418.2 408.5,387.7 410.0,353.2 412.5,488.2 415.0,438.2 417.0,436.1 419.0,438.2 421.0,458.2 422.5,445.2 424.0,430.2 426.0,432.6 428.0,438.2 429.5,449.8 431.0,458.2 432.6,449.1 434.2,446.3 435.9,435.1 437.5,430.2 439.2,433.4 441.0,433.2 443.0,449.5 445.0,470.2 446.7,461.4 448.3,447.0 450.0,438.2 452.5,455.2 455.0,353.2 457.0,361.8 459.0,368.2 460.8,372.4 462.5,378.2 464.2,366.1 465.8,350.9 467.5,339.2 469.2,389.6 471.0,438.2 473.0,439.6 475.0,445.2 476.7,444.5 478.3,438.8 480.0,438.2 481.7,437.3 483.3,431.0 485.0,430.2 487.0,435.7 489.0,438.2 490.8,443.5 492.5,450.2 495.0,438.2 497.0,448.8 499.0,455.2 500.8,448.2 502.5,445.2 504.2,446.8 505.8,443.6 507.5,445.2 509.2,448.0 510.8,446.4 512.5,448.2 514.2,457.7 516.0,463.2 518.0,468.1 520.0,475.2 522.0,508.2 524.5,573.2 526.0,525.0 527.5,475.2 530.0,458.2 532.0,459.5 534.0,463.2 535.8,471.1 537.5,475.2 540.0,495.2 542.5,463.2 544.2,485.6 546.0,510.2 548.0,488.7 550.0,463.2 547.5,510.2 549.2,469.3 551.0,433.2 553.0,454.7 555.0,473.2 557.0,479.3 559.0,488.2 560.8,505.7 562.5,520.2 564.2,492.3 566.0,468.2 568.0,480.2 570.0,488.2 572.0,507.4 574.0,530.2 575.7,508.7 577.3,482.7 579.0,460.2 580.8,475.2 582.5,488.2 584.2,477.1 586.0,468.2 588.0,472.7 590.0,473.2 592.0,503.0 594.0,535.2 595.5,533.4 597.0,528.2 598.5,535.0 600.0,543.2 602.0,506.5 604.0,468.2 606.0,477.0 608.0,488.2 609.5,490.0 611.0,488.2 613.0,491.3 615.0,498.2 617.0,507.6 619.0,513.2 620.8,512.0 622.5,513.2 624.2,507.3 626.0,498.2 628.0,491.7 630.0,488.2 631.7,486.4 633.3,480.6 635.0,478.2 636.5,473.4 638.0,463.1 639.5,459.6 641.0,450.2 643.0,454.4 645.0,463.2 647.0,459.9 649.0,455.2 650.8,462.7 652.5,473.2 654.2,482.8 656.0,488.2 658.0,503.4 660.0,523.2 662.0,533.2 664.0,540.2 665.8,513.0 667.5,488.2 669.2,483.3 671.0,476.2 673.0,469.9 675.0,468.2 677.0,466.8 679.0,463.2 680.8,470.0 682.5,480.2 684.2,510.2 686.0,538.2 688.0,515.1 690.0,495.2 692.0,484.0 694.0,468.2 695.8,467.3 697.5,468.2 699.2,475.3 701.0,478.2 702.7,478.3 704.3,483.7 706.0,483.2 707.5,499.8 709.0,520.2 710.7,549.0 712.3,573.3 714.0,603.2 715.8,568.2 717.5,530.2 720.0,500.2 722.5,453.2 724.2,467.4 726.0,483.2 728.0,487.4 730.0,490.2 731.5,487.7 733.0,488.2 734.5,468.2 736.0,445.2 738.0,465.5 740.0,488.2 742.0,485.2 744.0,480.2 745.7,480.6 747.3,484.8 749.0,485.2 750.7,484.1 752.3,487.9 754.0,488.2 756.0,496.2 758.0,508.2 759.5,527.0 761.0,540.6 762.5,558.2 764.2,541.5 766.0,520.2 768.0,509.8 770.0,503.2 771.7,500.4 773.3,492.0 775.0,488.2 776.7,489.5 778.3,486.8 780.0,488.2 782.0,483.1 784.0,473.2 785.8,486.5 787.5,503.2 789.2,497.0 791.0,488.2 793.0,476.8 795.0,468.2 796.7,471.0 798.3,470.7 800.0,473.2 802.0,497.6 804.0,520.2 805.8,532.1 807.5,548.2 809.2,530.4 811.0,510.2 813.0,522.9 815.0,540.2 817.0,510.3 819.0,478.2 820.8,494.5 822.5,513.2 824.2,502.3 826.0,488.2 828.0,488.2 830.0,490.2 832.0,513.0 834.0,533.2 835.8,505.9 837.5,483.2 840.0,463.2 841.5,477.9 843.0,488.2 845.0,496.1 847.0,508.2 849.0,520.0 851.0,528.2 852.5,515.9 854.0,508.2 855.8,538.0 857.5,563.2 859.2,536.6 861.0,513.2 863.0,500.1 865.0,483.2 866.7,480.7 868.3,481.8 870.0,478.2 871.7,493.4 873.3,513.5 875.0,528.2 877.0,518.9 879.0,513.2 880.7,514.4 882.3,512.4 884.0,513.2 885.8,495.5 887.5,473.2 889.2,489.6 890.8,509.4 892.5,525.2 894.2,512.9 896.0,503.2 897.7,508.4 899.3,509.2 901.0,515.2 902.7,530.2 904.3,539.4 906.0,553.2 908.0,553.5 910.0,550.2 911.7,528.3 913.3,510.5 915.0,488.2 917.0,477.8 919.0,470.2 920.5,487.7 922.0,503.2 924.0,510.7 926.0,520.2 927.7,525.6 929.3,526.6 931.0,533.2 933.0,512.3 935.0,488.2 937.0,478.1 939.0,470.2 940.5,481.4 942.0,488.2 944.0,480.8 946.0,478.2 948.0,504.7 950.0,528.2 952.0,509.7 954.0,493.2 955.8,504.2 957.5,513.2 959.2,502.3 961.0,493.2 963.0,477.0 965.0,458.2 966.7,474.0 968.3,492.7 970.0,508.2 971.5,494.5 973.0,483.2 974.5,479.9 976.0,473.2 978.0,501.0 980.0,533.2 982.0,510.2 984.0,483.2 986.0,468.2 988.0,476.8 990.0,488.2 991.7,480.3 993.3,467.9 995.0,460.2 997.0,478.1 999.0,493.2 1000.7,506.9 1002.3,524.0 1004.0,538.2 1005.5,514.5 1007.0,493.2 1008.5,511.5 1010.0,525.2 1012.0,515.8 1014.0,508.2 1015.8,497.3 1017.5,483.2 1019.2,488.9 1021.0,498.2 1023.0,520.4 1025.0,538.2 1027.0,512.1 1029.0,488.2 1030.8,482.9 1032.5,475.2 1035.0,520.2 1036.7,511.7 1038.3,506.9 1040.0,498.2 1041.5,501.7 1043.0,508.2 1044.5,540.0 1046.0,567.2 1047.5,536.6 1049.0,510.2 1050.8,518.9 1052.5,523.2 1054.2,495.9 1056.0,470.2 1058.0,472.5 1060.0,473.2 1062.0,468.8 1064.0,468.2 1065.8,485.4 1067.5,498.2 1069.2,511.7 1071.0,528.2 1073.0,508.4 1075.0,485.2 1077.0,483.5 1079.0,483.2 1080.8,485.6 1082.5,485.2 1085.0,515.2 1086.7,516.3 1088.3,524.0 1090.0,525.2 1092.0,540.5 1094.0,560.2 1095.8,531.6 1097.5,498.2 1099.2,486.1 1100.8,477.1 1102.5,465.2 1104.2,468.2 1106.0,473.2 1108.0,472.3 1110.0,468.2 1112.0,463.8 1114.0,463.2 1115.8,479.0 1117.5,490.2 1119.2,477.3 1121.0,468.2 1122.7,468.3 1124.3,462.9 1126.0,463.2 1128.0,467.2 1130.0,468.2 1131.0,480.2 1133.0,470.1 1135.0,463.2 1137.0,481.5 1139.0,498.2 1140.8,517.2 1142.5,540.2 1144.2,540.3 1146.0,538.2 1148.0,503.4 1150.0,473.2 1152.0,476.5 1154.0,476.2 1155.8,487.0 1157.5,500.2 1159.2,486.1 1161.0,470.2 1163.0,484.1 1165.0,500.2 1166.5,496.0 1168.0,488.2 1169.5,511.3 1171.0,538.2 1173.0,509.1 1175.0,478.2 1177.0,478.4 1179.0,480.2 1180.8,485.8 1182.5,488.2 1184.2,487.5 1186.0,490.2 1188.0,478.1 1190.0,463.2 1192.0,479.6 1194.0,498.2 1195.8,518.4 1197.5,535.2 1199.2,512.0 1201.0,490.2 1203.0,477.9 1205.0,463.2 1206.7,459.0 1208.3,460.2 1210.0,455.2 1212.0,477.4 1214.0,503.2 1215.8,482.9 1217.5,458.2 1219.2,465.2 1221.0,475.2 1223.0,477.8 1225.0,478.2 1227.0,499.6 1229.0,523.2 1230.8,509.0 1232.5,490.2 1234.2,489.8 1236.0,493.2 1238.0,506.9 1240.0,518.2 1242.0,518.4 1244.0,520.2 1245.8,493.3 1247.5,463.2 1250.0,445.2 1252.0,447.3 1254.0,453.2 1255.8,458.1 1257.5,460.2 1259.2,465.5 1261.0,473.2 1262.5,466.0 1264.0,455.2 1266.0,456.9 1268.0,463.2 1269.5,466.8 1271.0,468.2 1273.0,469.9 1275.0,473.2 1277.0,469.5 1279.0,463.2 1280.5,479.3 1282.0,498.2 1284.0,513.2 1286.0,507.6 1288.0,498.2 1289.5,494.6 1291.0,493.2 1292.5,488.8 1294.0,480.2 1295.8,469.7 1297.5,463.2 1299.0,465.4 1300.5,463.5 1302.0,465.2 1304.0,455.0 1306.0,440.2 1307.5,470.5 1309.0,503.2 1311.0,493.8 1313.0,480.2 1314.5,470.8 1316.0,464.6 1317.5,455.2 1319.2,463.2 1321.0,475.2 1323.0,466.4 1325.0,455.2 1326.7,458.9 1328.3,468.8 1330.0,473.2 1332.0,475.7 1334.0,480.2 1335.8,486.3 1337.5,490.2 1339.2,480.3 1341.0,473.2 1343.0,472.5 1345.0,468.2 1346.7,460.9 1348.3,459.2 1350.0,453.2 1351.7,447.5 1353.3,445.6 1355.0,440.2 1357.0,454.3 1359.0,473.2 1361.0,498.2 1362.8,517.2 1364.5,534.2 1366.2,502.9 1368.0,473.2 1369.5,474.0 1371.0,473.2 1373.0,471.8 1375.0,473.2 1377.0,505.4 1379.0,533.2 1380.5,507.0 1382.0,485.2 1383.5,474.7 1385.0,460.2 1386.5,476.8 1388.0,498.2 1389.5,476.5 1391.0,450.2 1393.0,447.9 1395.0,448.2 1396.7,448.2 1398.3,443.9 1400.0,445.2 1401.7,445.5 1403.3,441.1 1405.0,440.2 1406.5,443.5 1408.0,443.2 1409.5,455.3 1411.0,470.2 1413.0,468.0 1415.0,463.2 1417.0,438.2 1418.5,426.9 1420.0,418.2 1422.5,415.2 1424.2,425.2 1426.0,433.2 1427.5,445.0 1429.0,458.2 1431.0,425.2 1432.5,435.4 1434.0,443.2 1435.8,456.9 1437.5,473.2 1439.2,461.5 1441.0,445.2 1443.0,428.3 1445.0,413.2 1447.0,414.0 1449.0,410.2 1450.5,404.1 1452.0,400.2 1453.5,413.0 1455.0,423.2 1456.5,450.6 1458.0,482.2 1459.5,467.3 1461.0,448.2 1463.0,430.3 1465.0,415.2 1467.0,425.0 1469.0,433.2 1471.0,414.2 1473.0,398.2 1474.5,412.0 1476.0,423.2 1477.5,433.4 1479.0,448.2 1481.0,420.2 1483.0,423.7 1485.0,425.2 1486.7,424.9 1488.3,429.4 1490.0,428.2 1491.5,438.1 1493.0,450.9 1494.5,460.2 1496.2,447.1 1498.0,438.2 1499.5,423.7 1501.0,405.2 1503.0,408.4 1505.0,413.2 1507.0,412.5 1509.0,410.2 1510.8,411.9 1512.5,415.2 1514.2,420.0 1516.0,420.2 1517.7,425.0 1519.3,434.2 1521.0,438.2 1523.0,424.5 1525.0,415.2 1527.0,410.5 1529.0,403.2 1531.0,430.2 1533.0,430.5 1535.0,433.2 1536.5,429.0 1538.0,420.2 1540.0,434.9 1542.0,453.2 1543.5,427.9 1545.0,400.2 1546.7,397.6 1548.3,400.1 1550.0,398.2 1551.5,394.4 1553.0,393.6 1554.5,390.2 1556.2,393.2 1558.0,400.2 1559.5,401.8 1561.0,397.1 1562.5,398.2 1565.0,423.2 1566.0,420.2 1568.0,427.5 1570.0,430.2 1571.5,420.9 1573.0,413.2 1575.0,399.8 1577.0,384.2 1578.5,392.2 1580.0,403.2 1582.0,421.0 1584.0,434.2 1585.8,424.9 1587.5,420.2 1589.2,421.6 1591.0,420.2 1593.0,429.1 1595.0,440.2 1597.0,424.1 1599.0,405.2 1600.7,403.0 1602.3,406.1 1604.0,403.2 1605.8,407.2 1607.5,413.2 1609.2,403.8 1611.0,390.2 1612.5,398.2 1614.0,410.2 1615.8,423.8 1617.5,433.2 1619.2,408.2 1621.0,387.2 1623.0,404.4 1625.0,418.2 1626.5,430.9 1628.0,447.5 1629.5,460.2 1631.0,427.9 1632.5,398.2 1635.0,435.2 1637.0,427.2 1639.0,415.2 1640.5,415.8 1642.0,418.2 1644.0,416.8 1646.0,413.2 1648.0,418.7 1650.0,428.2 1652.0,417.8 1654.0,405.2 1655.7,402.0 1657.3,401.3 1659.0,398.2 1660.8,400.1 1662.5,405.2 1664.2,409.0 1666.0,410.2 1668.0,411.8 1670.0,418.2 1671.5,417.9 1673.0,413.2 1675.5,455.2 1677.2,435.3 1679.0,420.2 1680.5,420.4 1682.0,418.2 1684.0,413.3 1686.0,410.2 1688.0,425.1 1690.0,438.2 1692.0,420.1 1694.0,405.2 1695.8,423.6 1697.5,438.2 1699.2,422.7 1701.0,410.2 1703.0,413.8 1705.0,415.2 1707.0,402.8 1709.0,393.2 1711.0,393.2 1712.5,400.0 1714.0,403.2 1716.0,407.3 1718.0,415.2 1719.5,412.2 1721.0,405.2 1723.0,395.6 1725.0,390.2 1727.0,402.0 1729.0,410.2 1730.7,406.9 1732.3,407.7 1734.0,403.2 1735.5,403.5 1737.0,406.2 1739.0,413.9 1741.0,418.2 1742.5,419.4 1744.0,423.2 1745.8,418.7 1747.5,410.2 1750.0,423.2 1752.0,428.2 1753.5,440.1 1755.0,454.2 M261.5,909.8 262.0,773.8 263.8,773.8 265.5,777.8 267.0,796.8 268.7,742.9 270.4,685.8 272.1,632.7 273.8,574.7 275.5,521.8 277.0,263.8 278.8,266.0 280.5,262.0 282.2,265.0 284.0,263.8 286.0,341.8 288.0,371.7 290.0,403.8 292.5,436.8 294.2,432.0 295.8,423.3 297.5,418.8 299.2,456.3 301.0,491.8 302.5,511.8 304.2,486.0 305.8,464.3 307.5,438.8 309.1,447.2 310.6,462.7 312.1,469.4 313.7,481.8 315.4,519.6 317.0,552.8 318.7,591.8 320.4,545.4 322.0,495.1 323.7,448.8 325.6,458.5 327.5,466.8 329.2,461.4 330.9,460.3 332.6,453.2 334.3,451.9 336.0,446.8 337.7,451.9 339.3,460.9 341.0,466.8 342.7,456.3 344.3,449.0 346.0,438.8 347.7,459.1 349.3,482.9 351.0,503.8 353.0,474.5 355.0,446.8 356.7,453.0 358.3,455.7 360.0,461.8 362.0,461.0 364.0,456.8 365.6,454.2 367.1,456.8 368.7,453.8 370.3,427.7 371.9,407.2 373.4,378.9 375.0,356.8 376.9,426.7 378.7,493.8 380.4,481.5 382.0,471.8 383.8,435.8 385.7,394.2 387.5,356.8 389.2,419.7 391.0,478.8 392.6,446.5 394.2,418.6 395.9,385.2 397.5,356.8 399.2,367.4 400.8,371.7 402.5,381.8 405.0,466.8 407.0,421.8 408.5,391.3 410.0,356.8 412.5,491.8 415.0,441.8 417.0,439.7 419.0,441.8 421.0,461.8 422.5,448.8 424.0,433.8 426.0,436.2 428.0,441.8 429.5,453.4 431.0,461.8 432.6,452.7 434.2,449.9 435.9,438.7 437.5,433.8 439.2,437.0 441.0,436.8 443.0,453.1 445.0,473.8 446.7,465.0 448.3,450.6 450.0,441.8 452.5,458.8 455.0,356.8 457.0,365.4 459.0,371.8 460.8,376.0 462.5,381.8 464.2,369.7 465.8,354.5 467.5,342.8 469.2,393.2 471.0,441.8 473.0,443.2 475.0,448.8 476.7,448.1 478.3,442.4 480.0,441.8 481.7,440.9 483.3,434.6 485.0,433.8 487.0,439.3 489.0,441.8 490.8,447.1 492.5,453.8 495.0,441.8 497.0,452.4 499.0,458.8 500.8,451.8 502.5,448.8 504.2,450.4 505.8,447.2 507.5,448.8 509.2,451.6 510.8,450.0 512.5,451.8 514.2,461.3 516.0,466.8 518.0,471.7 520.0,478.8 522.0,511.8 524.5,576.8 526.0,528.6 527.5,478.8 530.0,461.8 532.0,463.1 534.0,466.8 535.8,474.7 537.5,478.8 540.0,498.8 542.5,466.8 544.2,489.2 546.0,513.8 548.0,492.3 550.0,466.8 547.5,513.8 549.2,472.9 551.0,436.8 553.0,458.3 555.0,476.8 557.0,482.9 559.0,491.8 560.8,509.3 562.5,523.8 564.2,495.9 566.0,471.8 568.0,483.8 570.0,491.8 572.0,511.0 574.0,533.8 575.7,512.3 577.3,486.3 579.0,463.8 580.8,478.8 582.5,491.8 584.2,480.7 586.0,471.8 588.0,476.3 590.0,476.8 592.0,506.6 594.0,538.8 595.5,537.0 597.0,531.8 598.5,538.6 600.0,546.8 602.0,510.1 604.0,471.8 606.0,480.6 608.0,491.8 609.5,493.6 611.0,491.8 613.0,494.9 615.0,501.8 617.0,511.2 619.0,516.8 620.8,515.6 622.5,516.8 624.2,510.9 626.0,501.8 628.0,495.3 630.0,491.8 631.7,490.0 633.3,484.2 635.0,481.8 636.5,477.0 638.0,466.7 639.5,463.2 641.0,453.8 643.0,458.0 645.0,466.8 647.0,463.5 649.0,458.8 650.8,466.3 652.5,476.8 654.2,486.4 656.0,491.8 658.0,507.0 660.0,526.8 662.0,536.8 664.0,543.8 665.8,516.6 667.5,491.8 669.2,486.9 671.0,479.8 673.0,473.5 675.0,471.8 677.0,470.4 679.0,466.8 680.8,473.6 682.5,483.8 684.2,513.8 686.0,541.8 688.0,518.7 690.0,498.8 692.0,487.6 694.0,471.8 695.8,470.9 697.5,471.8 699.2,478.9 701.0,481.8 702.7,481.9 704.3,487.3 706.0,486.8 707.5,503.4 709.0,523.8 710.7,552.6 712.3,576.9 714.0,606.8 715.8,571.8 717.5,533.8 720.0,503.8 722.5,456.8 724.2,471.0 726.0,486.8 728.0,491.0 730.0,493.8 731.5,491.3 733.0,491.8 734.5,471.8 736.0,448.8 738.0,469.1 740.0,491.8 742.0,488.8 744.0,483.8 745.7,484.2 747.3,488.4 749.0,488.8 750.7,487.7 752.3,491.5 754.0,491.8 756.0,499.8 758.0,511.8 759.5,530.6 761.0,544.2 762.5,561.8 764.2,545.1 766.0,523.8 768.0,513.4 770.0,506.8 771.7,504.0 773.3,495.6 775.0,491.8 776.7,493.1 778.3,490.4 780.0,491.8 782.0,486.7 784.0,476.8 785.8,490.1 787.5,506.8 789.2,500.6 791.0,491.8 793.0,480.4 795.0,471.8 796.7,474.6 798.3,474.3 800.0,476.8 802.0,501.2 804.0,523.8 805.8,535.7 807.5,551.8 809.2,534.0 811.0,513.8 813.0,526.5 815.0,543.8 817.0,513.9 819.0,481.8 820.8,498.1 822.5,516.8 824.2,505.9 826.0,491.8 828.0,491.8 830.0,493.8 832.0,516.6 834.0,536.8 835.8,509.5 837.5,486.8 840.0,466.8 841.5,481.5 843.0,491.8 845.0,499.7 847.0,511.8 849.0,523.6 851.0,531.8 852.5,519.5 854.0,511.8 855.8,541.6 857.5,566.8 859.2,540.2 861.0,516.8 863.0,503.7 865.0,486.8 866.7,484.3 868.3,485.4 870.0,481.8 871.7,497.0 873.3,517.1 875.0,531.8 877.0,522.5 879.0,516.8 880.7,518.0 882.3,516.0 884.0,516.8 885.8,499.1 887.5,476.8 889.2,493.2 890.8,513.0 892.5,528.8 894.2,516.5 896.0,506.8 897.7,512.0 899.3,512.8 901.0,518.8 902.7,533.8 904.3,543.0 906.0,556.8 908.0,557.1 910.0,553.8 911.7,531.9 913.3,514.1 915.0,491.8 917.0,481.4 919.0,473.8 920.5,491.3 922.0,506.8 924.0,514.3 926.0,523.8 927.7,529.2 929.3,530.2 931.0,536.8 933.0,515.9 935.0,491.8 937.0,481.7 939.0,473.8 940.5,485.0 942.0,491.8 944.0,484.4 946.0,481.8 948.0,508.3 950.0,531.8 952.0,513.3 954.0,496.8 955.8,507.8 957.5,516.8 959.2,505.9 961.0,496.8 963.0,480.6 965.0,461.8 966.7,477.6 968.3,496.3 970.0,511.8 971.5,498.1 973.0,486.8 974.5,483.5 976.0,476.8 978.0,504.6 980.0,536.8 982.0,513.8 984.0,486.8 986.0,471.8 988.0,480.4 990.0,491.8 991.7,483.9 993.3,471.5 995.0,463.8 997.0,481.7 999.0,496.8 1000.7,510.5 1002.3,527.6 1004.0,541.8 1005.5,518.1 1007.0,496.8 1008.5,515.1 1010.0,528.8 1012.0,519.4 1014.0,511.8 1015.8,500.9 1017.5,486.8 1019.2,492.5 1021.0,501.8 1023.0,524.0 1025.0,541.8 1027.0,515.7 1029.0,491.8 1030.8,486.5 1032.5,478.8 1035.0,523.8 1036.7,515.3 1038.3,510.5 1040.0,501.8 1041.5,505.3 1043.0,511.8 1044.5,543.6 1046.0,570.8 1047.5,540.2 1049.0,513.8 1050.8,522.5 1052.5,526.8 1054.2,499.5 1056.0,473.8 1058.0,476.1 1060.0,476.8 1062.0,472.4 1064.0,471.8 1065.8,489.0 1067.5,501.8 1069.2,515.3 1071.0,531.8 1073.0,512.0 1075.0,488.8 1077.0,487.1 1079.0,486.8 1080.8,489.2 1082.5,488.8 1085.0,518.8 1086.7,519.9 1088.3,527.6 1090.0,528.8 1092.0,544.1 1094.0,563.8 1095.8,535.2 1097.5,501.8 1099.2,489.7 1100.8,480.7 1102.5,468.8 1104.2,471.8 1106.0,476.8 1108.0,475.9 1110.0,471.8 1112.0,467.4 1114.0,466.8 1115.8,482.6 1117.5,493.8 1119.2,480.9 1121.0,471.8 1122.7,471.9 1124.3,466.5 1126.0,466.8 1128.0,470.8 1130.0,471.8 1131.0,483.8 1133.0,473.7 1135.0,466.8 1137.0,485.1 1139.0,501.8 1140.8,520.8 1142.5,543.8 1144.2,543.9 1146.0,541.8 1148.0,507.0 1150.0,476.8 1152.0,480.1 1154.0,479.8 1155.8,490.6 1157.5,503.8 1159.2,489.7 1161.0,473.8 1163.0,487.7 1165.0,503.8 1166.5,499.6 1168.0,491.8 1169.5,514.9 1171.0,541.8 1173.0,512.7 1175.0,481.8 1177.0,482.0 1179.0,483.8 1180.8,489.4 1182.5,491.8 1184.2,491.1 1186.0,493.8 1188.0,481.7 1190.0,466.8 1192.0,483.2 1194.0,501.8 1195.8,522.0 1197.5,538.8 1199.2,515.6 1201.0,493.8 1203.0,481.5 1205.0,466.8 1206.7,462.6 1208.3,463.8 1210.0,458.8 1212.0,481.0 1214.0,506.8 1215.8,486.5 1217.5,461.8 1219.2,468.8 1221.0,478.8 1223.0,481.4 1225.0,481.8 1227.0,503.2 1229.0,526.8 1230.8,512.6 1232.5,493.8 1234.2,493.4 1236.0,496.8 1238.0,510.5 1240.0,521.8 1242.0,522.0 1244.0,523.8 1245.8,496.9 1247.5,466.8 1250.0,448.8 1252.0,450.9 1254.0,456.8 1255.8,461.7 1257.5,463.8 1259.2,469.1 1261.0,476.8 1262.5,469.6 1264.0,458.8 1266.0,460.5 1268.0,466.8 1269.5,470.4 1271.0,471.8 1273.0,473.5 1275.0,476.8 1277.0,473.1 1279.0,466.8 1280.5,482.9 1282.0,501.8 1284.0,516.8 1286.0,511.2 1288.0,501.8 1289.5,498.2 1291.0,496.8 1292.5,492.4 1294.0,483.8 1295.8,473.3 1297.5,466.8 1299.0,469.0 1300.5,467.1 1302.0,468.8 1304.0,458.6 1306.0,443.8 1307.5,474.1 1309.0,506.8 1311.0,497.4 1313.0,483.8 1314.5,474.4 1316.0,468.2 1317.5,458.8 1319.2,466.8 1321.0,478.8 1323.0,470.0 1325.0,458.8 1326.7,462.5 1328.3,472.4 1330.0,476.8 1332.0,479.3 1334.0,483.8 1335.8,489.9 1337.5,493.8 1339.2,483.9 1341.0,476.8 1343.0,476.1 1345.0,471.8 1346.7,464.5 1348.3,462.8 1350.0,456.8 1351.7,451.1 1353.3,449.2 1355.0,443.8 1357.0,457.9 1359.0,476.8 1361.0,501.8 1362.8,520.8 1364.5,537.8 1366.2,506.5 1368.0,476.8 1369.5,477.6 1371.0,476.8 1373.0,475.4 1375.0,476.8 1377.0,509.0 1379.0,536.8 1380.5,510.6 1382.0,488.8 1383.5,478.3 1385.0,463.8 1386.5,480.4 1388.0,501.8 1389.5,480.1 1391.0,453.8 1393.0,451.5 1395.0,451.8 1396.7,451.8 1398.3,447.5 1400.0,448.8 1401.7,449.1 1403.3,444.7 1405.0,443.8 1406.5,447.1 1408.0,446.8 1409.5,458.9 1411.0,473.8 1413.0,471.6 1415.0,466.8 1417.0,441.8 1418.5,430.5 1420.0,421.8 1422.5,418.8 1424.2,428.8 1426.0,436.8 1427.5,448.6 1429.0,461.8 1431.0,428.8 1432.5,439.0 1434.0,446.8 1435.8,460.5 1437.5,476.8 1439.2,465.1 1441.0,448.8 1443.0,431.9 1445.0,416.8 1447.0,417.6 1449.0,413.8 1450.5,407.7 1452.0,403.8 1453.5,416.6 1455.0,426.8 1456.5,454.2 1458.0,485.8 1459.5,470.9 1461.0,451.8 1463.0,433.9 1465.0,418.8 1467.0,428.6 1469.0,436.8 1471.0,417.8 1473.0,401.8 1474.5,415.6 1476.0,426.8 1477.5,437.0 1479.0,451.8 1481.0,423.8 1483.0,427.3 1485.0,428.8 1486.7,428.5 1488.3,433.0 1490.0,431.8 1491.5,441.7 1493.0,454.5 1494.5,463.8 1496.2,450.7 1498.0,441.8 1499.5,427.3 1501.0,408.8 1503.0,412.0 1505.0,416.8 1507.0,416.1 1509.0,413.8 1510.8,415.5 1512.5,418.8 1514.2,423.6 1516.0,423.8 1517.7,428.6 1519.3,437.8 1521.0,441.8 1523.0,428.1 1525.0,418.8 1527.0,414.1 1529.0,406.8 1531.0,433.8 1533.0,434.1 1535.0,436.8 1536.5,432.6 1538.0,423.8 1540.0,438.5 1542.0,456.8 1543.5,431.5 1545.0,403.8 1546.7,401.2 1548.3,403.7 1550.0,401.8 1551.5,398.0 1553.0,397.2 1554.5,393.8 1556.2,396.8 1558.0,403.8 1559.5,405.4 1561.0,400.7 1562.5,401.8 1565.0,426.8 1566.0,423.8 1568.0,431.1 1570.0,433.8 1571.5,424.5 1573.0,416.8 1575.0,403.4 1577.0,387.8 1578.5,395.8 1580.0,406.8 1582.0,424.6 1584.0,437.8 1585.8,428.5 1587.5,423.8 1589.2,425.2 1591.0,423.8 1593.0,432.7 1595.0,443.8 1597.0,427.7 1599.0,408.8 1600.7,406.6 1602.3,409.7 1604.0,406.8 1605.8,410.8 1607.5,416.8 1609.2,407.4 1611.0,393.8 1612.5,401.8 1614.0,413.8 1615.8,427.4 1617.5,436.8 1619.2,411.8 1621.0,390.8 1623.0,408.0 1625.0,421.8 1626.5,434.5 1628.0,451.1 1629.5,463.8 1631.0,431.5 1632.5,401.8 1635.0,438.8 1637.0,430.8 1639.0,418.8 1640.5,419.4 1642.0,421.8 1644.0,420.4 1646.0,416.8 1648.0,422.3 1650.0,431.8 1652.0,421.4 1654.0,408.8 1655.7,405.6 1657.3,404.9 1659.0,401.8 1660.8,403.7 1662.5,408.8 1664.2,412.6 1666.0,413.8 1668.0,415.4 1670.0,421.8 1671.5,421.5 1673.0,416.8 1675.5,458.8 1677.2,438.9 1679.0,423.8 1680.5,424.0 1682.0,421.8 1684.0,416.9 1686.0,413.8 1688.0,428.7 1690.0,441.8 1692.0,423.7 1694.0,408.8 1695.8,427.2 1697.5,441.8 1699.2,426.3 1701.0,413.8 1703.0,417.4 1705.0,418.8 1707.0,406.4 1709.0,396.8 1711.0,396.8 1712.5,403.6 1714.0,406.8 1716.0,410.9 1718.0,418.8 1719.5,415.8 1721.0,408.8 1723.0,399.2 1725.0,393.8 1727.0,405.6 1729.0,413.8 1730.7,410.5 1732.3,411.3 1734.0,406.8 1735.5,407.1 1737.0,409.8 1739.0,417.5 1741.0,421.8 1742.5,423.0 1744.0,426.8 1745.8,422.3 1747.5,413.8 1750.0,426.8 1752.0,431.8 1753.5,443.7 1755.0,457.8"/>
<path stroke="#196ae0" d="M260.5,1166.2 262.0,907.2 264.0,901.6 266.0,898.2 267.5,891.8 269.0,883.2 271.0,738.2 273.7,448.2 276.0,488.2 278.0,482.2 280.0,478.2 281.9,491.4 283.7,500.2 285.6,470.0 287.5,443.2 290.0,463.2 292.5,443.2 295.0,488.2 296.0,622.2 298.0,581.5 300.0,538.2 301.9,530.3 303.7,525.2 305.6,509.1 307.5,488.2 309.2,494.1 311.0,503.2 313.0,505.8 315.0,506.2 316.9,531.1 318.7,560.2 321.0,493.2 323.0,497.5 325.0,498.2 326.9,470.8 328.7,448.2 330.6,481.6 332.5,513.2 335.0,468.2 336.9,471.7 338.7,478.2 340.6,477.8 342.5,473.2 345.0,533.2 346.9,552.6 348.7,576.2 350.6,580.5 352.5,580.2 354.0,530.2 356.0,490.2 358.0,503.4 360.0,518.2 361.9,490.4 363.7,460.2 365.4,478.3 367.0,498.2 368.5,481.7 370.0,463.2 371.9,485.8 373.7,513.2 375.6,505.9 377.5,495.2 379.2,540.4 381.0,590.2 383.0,559.0 385.0,525.2 386.9,542.0 388.7,563.2 390.6,522.2 392.5,478.2 394.2,474.5 396.0,473.2 398.0,495.2 400.0,513.2 402.0,500.9 404.0,493.2 405.0,493.2 407.0,504.1 409.0,513.2 410.7,530.5 412.3,553.0 414.0,570.2 415.8,540.6 417.5,513.2 419.2,489.5 421.0,463.2 423.0,448.2 425.0,435.2 427.5,475.2 429.2,470.3 431.0,463.2 432.5,474.6 434.0,488.2 435.8,467.4 437.5,443.2 440.0,475.2 442.0,492.4 444.0,513.2 445.8,501.8 447.5,488.2 449.2,521.0 451.0,555.2 452.5,535.5 454.0,513.2 455.8,492.3 457.5,475.2 459.2,482.7 461.0,488.2 463.0,475.5 465.0,465.2 467.0,495.3 469.0,523.2 470.8,491.1 472.5,463.2 474.2,460.8 476.0,455.2 478.0,460.9 480.0,468.2 482.0,479.1 484.0,488.2 486.0,443.2 487.5,470.3 489.0,500.2 490.8,479.3 492.5,455.2 494.2,463.4 496.0,475.2 498.0,501.1 500.0,525.2 502.0,499.2 504.0,475.2 505.8,508.6 507.5,538.2 509.2,548.5 510.8,562.7 512.5,573.2 514.2,543.0 516.0,515.2 518.0,536.5 520.0,553.2 522.0,518.2 524.0,483.0 526.0,450.2 528.0,445.9 530.0,438.2 532.0,435.9 534.0,436.2 535.8,448.6 537.5,458.2 539.2,451.0 541.0,448.2 543.0,443.1 545.0,433.2 547.0,424.4 549.0,418.2 550.7,415.9 552.3,409.6 554.0,408.2 555.8,421.8 557.5,433.2 559.2,440.0 561.0,448.2 563.0,447.9 565.0,443.2 567.0,490.3 569.0,540.2 570.8,501.3 572.5,458.2 574.2,477.8 576.0,500.2 578.0,521.4 580.0,538.2 582.0,504.2 584.0,473.2 585.8,494.2 587.5,513.2 589.2,485.0 591.0,458.2 593.0,438.3 595.0,415.2 597.0,414.9 599.0,418.2 600.8,422.9 602.5,423.2 604.2,438.3 606.0,455.2 607.8,492.0 609.5,525.2 611.0,490.4 612.5,458.2 614.2,474.8 616.0,488.2 617.5,473.2 619.0,460.2 620.8,480.4 622.5,498.2 624.2,470.1 626.0,445.2 628.0,485.0 630.0,520.2 631.5,493.3 633.0,468.2 634.5,512.7 636.0,554.2 638.0,509.1 640.0,468.2 642.0,481.5 644.0,490.2 645.5,498.1 647.0,508.2 648.5,521.6 650.0,533.2 652.0,509.4 654.0,490.2 655.8,486.6 657.5,478.2 659.2,486.7 661.0,498.2 663.0,479.0 665.0,458.2 667.0,449.4 669.0,445.2 670.8,464.1 672.5,480.2 675.0,438.2 677.0,451.0 679.0,468.2 680.8,486.0 682.5,500.2 684.2,487.1 686.0,478.2 688.0,470.2 690.0,460.2 692.0,447.2 694.0,438.2 695.8,439.3 697.5,438.2 699.2,454.3 701.0,473.2 703.0,462.8 705.0,448.2 706.7,445.1 708.3,447.2 710.0,445.2 712.0,478.1 714.0,513.2 715.5,480.6 717.0,445.2 718.5,473.6 720.0,505.2 722.0,488.1 724.0,468.2 725.8,460.8 727.5,455.2 729.0,467.3 730.5,475.3 732.0,488.2 734.0,510.4 736.0,528.2 738.0,528.4 740.0,530.2 742.0,504.4 744.0,475.2 745.8,469.7 747.5,468.2 749.2,464.7 750.8,457.4 752.5,455.2 754.2,451.1 755.8,443.5 757.5,440.2 759.2,453.3 761.0,463.2 762.7,454.8 764.3,451.1 766.0,443.2 768.0,470.3 770.0,500.2 772.0,479.4 774.0,455.2 776.0,467.8 778.0,483.2 779.5,496.7 781.0,505.1 782.5,518.2 784.2,505.7 786.0,490.2 788.0,503.4 790.0,518.2 791.7,500.6 793.3,478.0 795.0,460.2 797.0,450.3 799.0,438.2 800.8,443.7 802.5,453.2 804.2,446.2 806.0,435.2 808.0,446.2 810.0,460.2 812.0,453.7 814.0,445.2 815.8,461.2 817.5,480.2 819.2,458.6 821.0,435.2 823.0,450.8 825.0,468.2 827.0,479.6 829.0,488.2 830.8,478.3 832.5,470.2 834.2,475.7 836.0,478.2 837.5,496.6 839.0,518.2 840.8,506.5 842.5,493.2 844.2,511.4 846.0,533.2 848.0,512.6 850.0,490.2 852.0,503.2 854.0,520.2 855.8,507.2 857.5,490.2 859.2,471.1 861.0,455.2 862.7,448.7 864.3,439.0 866.0,433.2 868.0,452.1 870.0,468.2 872.0,451.9 874.0,440.2 875.8,435.1 877.5,428.2 880.0,458.2 882.0,446.0 884.0,438.2 885.5,456.6 887.0,470.2 888.5,454.8 890.0,443.2 892.0,458.8 894.0,470.2 895.8,484.2 897.5,500.2 899.2,491.6 901.0,478.2 903.0,486.7 905.0,498.2 907.0,509.0 909.0,515.2 910.8,497.9 912.5,485.2 914.2,481.2 915.8,473.2 917.5,470.2 919.2,487.5 921.0,500.2 923.0,488.4 925.0,478.2 927.0,463.0 929.0,445.2 930.5,458.2 932.0,475.2 933.5,460.2 935.0,443.2 937.0,448.5 939.0,458.2 940.8,471.9 942.5,483.2 944.2,468.6 946.0,458.2 947.5,461.7 949.0,463.2 950.8,452.6 952.5,445.2 954.2,467.5 956.0,485.2 958.0,480.6 960.0,478.2 962.0,485.4 964.0,490.2 965.5,482.6 967.0,478.2 969.0,488.0 971.0,495.2 973.0,471.9 975.0,450.2 977.0,457.7 979.0,463.2 980.8,468.2 982.5,475.2 985.0,468.2 986.7,462.2 988.3,449.7 990.0,443.2 992.0,455.4 994.0,463.2 995.7,457.9 997.3,456.6 999.0,450.2 1001.0,451.8 1003.0,455.2 1004.5,460.8 1006.0,463.2 1008.0,449.9 1010.0,440.2 1012.0,473.0 1014.0,503.2 1015.8,477.0 1017.5,455.2 1019.2,465.9 1021.0,473.2 1023.0,459.0 1025.0,448.2 1027.0,457.9 1029.0,463.2 1030.8,458.3 1032.5,455.2 1034.2,481.6 1036.0,503.2 1038.0,499.9 1040.0,500.2 1042.5,463.2 1044.2,475.6 1046.0,485.2 1048.0,474.6 1050.0,468.2 1052.0,494.4 1054.0,518.2 1055.8,499.3 1057.5,485.2 1059.2,483.4 1061.0,478.2 1063.0,485.4 1065.0,495.2 1067.0,477.2 1069.0,455.2 1070.5,455.2 1072.0,458.2 1074.0,459.2 1076.0,458.2 1078.0,458.7 1080.0,463.2 1081.7,463.0 1083.3,459.1 1085.0,460.2 1087.0,467.8 1089.0,473.2 1090.8,481.4 1092.5,493.2 1094.2,510.6 1096.0,523.2 1098.0,527.5 1100.0,535.2 1102.0,506.0 1104.0,473.2 1105.5,484.5 1107.0,498.2 1108.5,503.9 1110.0,508.2 1112.0,499.9 1114.0,493.2 1115.8,506.7 1117.5,518.2 1119.2,523.9 1121.0,533.2 1122.8,538.1 1124.5,540.2 1126.0,517.6 1127.5,498.2 1130.0,458.2 1132.5,455.2 1134.2,456.4 1136.0,453.2 1137.5,455.8 1139.0,460.2 1141.0,475.2 1143.0,461.3 1145.0,445.2 1146.5,452.4 1148.0,463.2 1149.5,482.5 1151.0,500.2 1153.0,477.0 1155.0,455.2 1156.5,458.0 1158.0,458.2 1159.5,463.3 1161.0,470.2 1162.5,464.0 1164.0,455.2 1165.5,456.6 1167.0,460.2 1168.5,463.4 1170.0,463.2 1172.5,515.2 1174.2,492.5 1176.0,473.2 1177.7,467.6 1179.3,458.1 1181.0,453.2 1183.0,459.7 1185.0,463.2 1187.0,474.8 1189.0,488.2 1191.0,503.2 1193.0,490.5 1195.0,473.2 1197.0,467.1 1199.0,463.2 1201.0,447.7 1203.0,430.2 1204.5,445.8 1206.0,463.2 1207.5,480.0 1209.0,493.2 1210.8,483.5 1212.5,478.2 1214.2,475.2 1216.0,468.2 1218.0,475.3 1220.0,485.2 1222.0,477.9 1224.0,468.2 1225.8,471.0 1227.5,475.2 1229.0,503.2 1230.8,487.5 1232.5,468.2 1234.2,462.5 1236.0,460.2 1238.0,469.0 1240.0,475.2 1242.0,463.4 1244.0,455.2 1245.5,458.2 1247.0,458.2 1249.0,464.4 1251.0,475.2 1253.0,496.2 1255.0,513.2 1257.0,492.1 1259.0,473.2 1260.5,476.9 1262.0,476.2 1264.0,473.9 1266.0,473.2 1268.0,479.8 1270.0,483.2 1272.0,492.8 1274.0,505.2 1276.0,505.2 1278.0,490.3 1280.0,473.2 1281.5,478.4 1283.0,485.2 1284.5,471.2 1286.0,453.2 1288.0,470.0 1290.0,488.2 1292.0,473.3 1294.0,455.2 1295.5,451.9 1297.0,453.2 1298.5,451.7 1300.0,448.2 1302.0,458.1 1304.0,470.2 1305.8,464.4 1307.5,455.2 1309.2,462.6 1311.0,473.2 1313.0,467.5 1315.0,458.2 1317.0,471.1 1319.0,488.2 1320.8,497.7 1322.5,505.2 1324.2,488.0 1326.0,473.2 1328.0,469.4 1330.0,463.2 1332.0,465.9 1334.0,470.2 1335.8,479.9 1337.5,485.2 1339.2,468.2 1341.0,455.2 1343.0,472.1 1345.0,485.2 1347.0,468.5 1349.0,453.2 1350.5,462.8 1352.0,468.2 1354.0,461.2 1356.0,458.2 1358.0,465.7 1360.0,470.2 1362.0,462.2 1364.0,458.2 1365.5,464.7 1367.0,468.2 1368.5,454.6 1370.0,443.2 1372.0,483.2 1373.5,499.1 1375.0,513.2 1377.0,494.6 1379.0,478.2 1381.0,481.5 1383.0,483.2 1384.5,486.9 1386.0,495.2 1387.5,498.2 1389.2,500.3 1390.8,508.3 1392.5,510.2 1394.2,506.6 1395.8,508.0 1397.5,505.2 1399.2,501.2 1400.8,502.0 1402.5,498.2 1404.2,483.7 1406.0,473.2 1408.0,467.3 1410.0,458.2 1412.0,452.0 1414.0,448.2 1415.8,456.0 1417.5,460.2 1420.0,455.2 1422.5,463.2 1424.2,465.9 1426.0,473.2 1427.8,485.3 1429.5,495.2 1431.0,484.5 1432.5,478.2 1434.2,479.9 1436.0,480.2 1438.0,480.5 1440.0,483.2 1442.5,498.2 1444.2,486.8 1446.0,473.2 1448.0,472.7 1450.0,476.2 1452.0,480.5 1454.0,480.2 1455.8,495.7 1457.5,515.2 1459.2,500.5 1461.0,483.2 1463.0,467.0 1465.0,455.2 1467.0,460.5 1469.0,463.2 1470.8,457.1 1472.5,453.2 1474.2,460.4 1476.0,463.2 1478.0,457.4 1480.0,455.2 1481.5,458.6 1483.0,458.2 1484.5,450.9 1486.0,447.2 1488.0,462.6 1490.0,473.2 1492.0,476.7 1494.0,483.2 1495.5,482.8 1497.0,478.2 1499.0,479.8 1501.0,485.2 1502.5,489.9 1504.0,490.2 1505.8,491.2 1507.5,495.2 1509.2,492.1 1511.0,485.2 1513.0,477.5 1515.0,473.2 1517.0,479.4 1519.0,483.2 1520.8,482.1 1522.5,483.2 1524.2,495.0 1526.0,503.2 1528.0,497.3 1530.0,493.2 1531.7,491.1 1533.3,483.6 1535.0,480.2 1537.0,486.0 1539.0,490.2 1540.8,493.3 1542.5,498.2 1544.2,508.0 1546.0,513.2 1548.0,501.9 1550.0,493.2 1552.0,499.2 1554.0,503.2 1555.8,505.9 1557.5,510.2 1560.0,515.2 1562.0,511.0 1564.0,505.2 1565.8,505.8 1567.5,510.2 1569.2,517.7 1570.8,519.6 1572.5,527.2 1574.2,519.7 1576.0,508.2 1578.0,503.4 1580.0,500.2 1581.7,497.9 1583.3,490.9 1585.0,488.2 1587.0,497.8 1589.0,503.2 1590.8,502.1 1592.5,505.2 1594.2,501.4 1596.0,493.2 1598.0,489.9 1600.0,488.2 1602.0,483.9 1604.0,475.2 1605.5,484.4 1607.0,498.2 1608.5,510.5 1610.0,518.2 1612.0,508.3 1614.0,500.2 1615.7,500.6 1617.3,498.0 1619.0,498.2 1621.0,505.0 1623.0,510.2 1624.5,504.7 1626.0,505.6 1627.5,500.2 1629.2,509.9 1631.0,523.2 1633.0,518.8 1635.0,510.2 1636.7,501.1 1638.3,496.7 1640.0,488.2 1642.0,500.8 1644.0,515.2 1645.8,503.6 1647.5,490.2 1649.2,498.2 1651.0,510.2 1652.5,501.3 1654.0,490.2 1655.8,506.4 1657.5,525.2 1659.2,513.1 1661.0,498.2 1662.6,495.4 1664.2,495.4 1665.9,491.0 1667.5,490.2 1669.2,493.6 1671.0,493.2 1672.7,500.2 1674.3,511.1 1676.0,518.2 1678.0,513.4 1680.0,513.2 1682.5,498.2 1684.2,508.3 1686.0,515.2 1688.0,517.0 1690.0,523.2 1692.0,521.0 1694.0,515.2 1695.8,524.4 1697.5,535.2 1700.0,500.2 1701.5,495.6 1703.0,488.2 1704.5,495.2 1706.0,505.2 1708.0,503.7 1710.0,498.2 1711.7,495.2 1713.3,496.8 1715.0,493.2 1717.0,499.1 1719.0,508.2 1720.8,514.3 1722.5,518.2 1724.0,522.0 1725.5,530.2 1727.2,520.1 1729.0,508.2 1730.8,516.1 1732.5,528.2 1734.2,519.2 1736.0,508.2 1738.0,502.5 1740.0,498.2 1742.0,501.8 1744.0,503.2 1745.8,507.2 1747.5,515.2 1749.2,516.6 1751.0,513.2 1753.0,520.0 1755.0,528.2 M260.5,1169.8 262.0,910.8 264.0,905.2 266.0,901.8 267.5,895.4 269.0,886.8 271.0,741.8 273.7,451.8 276.0,491.8 278.0,485.8 280.0,481.8 281.9,495.0 283.7,503.8 285.6,473.6 287.5,446.8 290.0,466.8 292.5,446.8 295.0,491.8 296.0,625.8 298.0,585.1 300.0,541.8 301.9,533.9 303.7,528.8 305.6,512.7 307.5,491.8 309.2,497.7 311.0,506.8 313.0,509.4 315.0,509.8 316.9,534.7 318.7,563.8 321.0,496.8 323.0,501.1 325.0,501.8 326.9,474.4 328.7,451.8 330.6,485.2 332.5,516.8 335.0,471.8 336.9,475.3 338.7,481.8 340.6,481.4 342.5,476.8 345.0,536.8 346.9,556.2 348.7,579.8 350.6,584.1 352.5,583.8 354.0,533.8 356.0,493.8 358.0,507.0 360.0,521.8 361.9,494.0 363.7,463.8 365.4,481.9 367.0,501.8 368.5,485.3 370.0,466.8 371.9,489.4 373.7,516.8 375.6,509.5 377.5,498.8 379.2,544.0 381.0,593.8 383.0,562.6 385.0,528.8 386.9,545.6 388.7,566.8 390.6,525.8 392.5,481.8 394.2,478.1 396.0,476.8 398.0,498.8 400.0,516.8 402.0,504.5 404.0,496.8 405.0,496.8 407.0,507.7 409.0,516.8 410.7,534.1 412.3,556.6 414.0,573.8 415.8,544.2 417.5,516.8 419.2,493.1 421.0,466.8 423.0,451.8 425.0,438.8 427.5,478.8 429.2,473.9 431.0,466.8 432.5,478.2 434.0,491.8 435.8,471.0 437.5,446.8 440.0,478.8 442.0,496.0 444.0,516.8 445.8,505.4 447.5,491.8 449.2,524.6 451.0,558.8 452.5,539.1 454.0,516.8 455.8,495.9 457.5,478.8 459.2,486.3 461.0,491.8 463.0,479.1 465.0,468.8 467.0,498.9 469.0,526.8 470.8,494.7 472.5,466.8 474.2,464.4 476.0,458.8 478.0,464.5 480.0,471.8 482.0,482.7 484.0,491.8 486.0,446.8 487.5,473.9 489.0,503.8 490.8,482.9 492.5,458.8 494.2,467.0 496.0,478.8 498.0,504.7 500.0,528.8 502.0,502.8 504.0,478.8 505.8,512.2 507.5,541.8 509.2,552.1 510.8,566.3 512.5,576.8 514.2,546.6 516.0,518.8 518.0,540.1 520.0,556.8 522.0,521.8 524.0,486.6 526.0,453.8 528.0,449.5 530.0,441.8 532.0,439.5 534.0,439.8 535.8,452.2 537.5,461.8 539.2,454.6 541.0,451.8 543.0,446.7 545.0,436.8 547.0,428.0 549.0,421.8 550.7,419.5 552.3,413.2 554.0,411.8 555.8,425.4 557.5,436.8 559.2,443.6 561.0,451.8 563.0,451.5 565.0,446.8 567.0,493.9 569.0,543.8 570.8,504.9 572.5,461.8 574.2,481.4 576.0,503.8 578.0,525.0 580.0,541.8 582.0,507.8 584.0,476.8 585.8,497.8 587.5,516.8 589.2,488.6 591.0,461.8 593.0,441.9 595.0,418.8 597.0,418.5 599.0,421.8 600.8,426.5 602.5,426.8 604.2,441.9 606.0,458.8 607.8,495.6 609.5,528.8 611.0,494.0 612.5,461.8 614.2,478.4 616.0,491.8 617.5,476.8 619.0,463.8 620.8,484.0 622.5,501.8 624.2,473.7 626.0,448.8 628.0,488.6 630.0,523.8 631.5,496.9 633.0,471.8 634.5,516.3 636.0,557.8 638.0,512.7 640.0,471.8 642.0,485.1 644.0,493.8 645.5,501.7 647.0,511.8 648.5,525.2 650.0,536.8 652.0,513.0 654.0,493.8 655.8,490.2 657.5,481.8 659.2,490.3 661.0,501.8 663.0,482.6 665.0,461.8 667.0,453.0 669.0,448.8 670.8,467.7 672.5,483.8 675.0,441.8 677.0,454.6 679.0,471.8 680.8,489.6 682.5,503.8 684.2,490.7 686.0,481.8 688.0,473.8 690.0,463.8 692.0,450.8 694.0,441.8 695.8,442.9 697.5,441.8 699.2,457.9 701.0,476.8 703.0,466.4 705.0,451.8 706.7,448.7 708.3,450.8 710.0,448.8 712.0,481.7 714.0,516.8 715.5,484.2 717.0,448.8 718.5,477.2 720.0,508.8 722.0,491.7 724.0,471.8 725.8,464.4 727.5,458.8 729.0,470.9 730.5,478.9 732.0,491.8 734.0,514.0 736.0,531.8 738.0,532.0 740.0,533.8 742.0,508.0 744.0,478.8 745.8,473.3 747.5,471.8 749.2,468.3 750.8,461.0 752.5,458.8 754.2,454.7 755.8,447.1 757.5,443.8 759.2,456.9 761.0,466.8 762.7,458.4 764.3,454.7 766.0,446.8 768.0,473.9 770.0,503.8 772.0,483.0 774.0,458.8 776.0,471.4 778.0,486.8 779.5,500.3 781.0,508.7 782.5,521.8 784.2,509.3 786.0,493.8 788.0,507.0 790.0,521.8 791.7,504.2 793.3,481.6 795.0,463.8 797.0,453.9 799.0,441.8 800.8,447.3 802.5,456.8 804.2,449.8 806.0,438.8 808.0,449.8 810.0,463.8 812.0,457.3 814.0,448.8 815.8,464.8 817.5,483.8 819.2,462.2 821.0,438.8 823.0,454.4 825.0,471.8 827.0,483.2 829.0,491.8 830.8,481.9 832.5,473.8 834.2,479.3 836.0,481.8 837.5,500.2 839.0,521.8 840.8,510.1 842.5,496.8 844.2,515.0 846.0,536.8 848.0,516.2 850.0,493.8 852.0,506.8 854.0,523.8 855.8,510.8 857.5,493.8 859.2,474.7 861.0,458.8 862.7,452.3 864.3,442.6 866.0,436.8 868.0,455.7 870.0,471.8 872.0,455.5 874.0,443.8 875.8,438.7 877.5,431.8 880.0,461.8 882.0,449.6 884.0,441.8 885.5,460.2 887.0,473.8 888.5,458.4 890.0,446.8 892.0,462.4 894.0,473.8 895.8,487.8 897.5,503.8 899.2,495.2 901.0,481.8 903.0,490.3 905.0,501.8 907.0,512.6 909.0,518.8 910.8,501.5 912.5,488.8 914.2,484.8 915.8,476.8 917.5,473.8 919.2,491.1 921.0,503.8 923.0,492.0 925.0,481.8 927.0,466.6 929.0,448.8 930.5,461.8 932.0,478.8 933.5,463.8 935.0,446.8 937.0,452.1 939.0,461.8 940.8,475.5 942.5,486.8 944.2,472.2 946.0,461.8 947.5,465.3 949.0,466.8 950.8,456.2 952.5,448.8 954.2,471.1 956.0,488.8 958.0,484.2 960.0,481.8 962.0,489.0 964.0,493.8 965.5,486.2 967.0,481.8 969.0,491.6 971.0,498.8 973.0,475.5 975.0,453.8 977.0,461.3 979.0,466.8 980.8,471.8 982.5,478.8 985.0,471.8 986.7,465.8 988.3,453.3 990.0,446.8 992.0,459.0 994.0,466.8 995.7,461.5 997.3,460.2 999.0,453.8 1001.0,455.4 1003.0,458.8 1004.5,464.4 1006.0,466.8 1008.0,453.5 1010.0,443.8 1012.0,476.6 1014.0,506.8 1015.8,480.6 1017.5,458.8 1019.2,469.5 1021.0,476.8 1023.0,462.6 1025.0,451.8 1027.0,461.5 1029.0,466.8 1030.8,461.9 1032.5,458.8 1034.2,485.2 1036.0,506.8 1038.0,503.5 1040.0,503.8 1042.5,466.8 1044.2,479.2 1046.0,488.8 1048.0,478.2 1050.0,471.8 1052.0,498.0 1054.0,521.8 1055.8,502.9 1057.5,488.8 1059.2,487.0 1061.0,481.8 1063.0,489.0 1065.0,498.8 1067.0,480.8 1069.0,458.8 1070.5,458.8 1072.0,461.8 1074.0,462.8 1076.0,461.8 1078.0,462.3 1080.0,466.8 1081.7,466.6 1083.3,462.7 1085.0,463.8 1087.0,471.4 1089.0,476.8 1090.8,485.0 1092.5,496.8 1094.2,514.2 1096.0,526.8 1098.0,531.1 1100.0,538.8 1102.0,509.6 1104.0,476.8 1105.5,488.1 1107.0,501.8 1108.5,507.5 1110.0,511.8 1112.0,503.5 1114.0,496.8 1115.8,510.3 1117.5,521.8 1119.2,527.5 1121.0,536.8 1122.8,541.7 1124.5,543.8 1126.0,521.2 1127.5,501.8 1130.0,461.8 1132.5,458.8 1134.2,460.0 1136.0,456.8 1137.5,459.4 1139.0,463.8 1141.0,478.8 1143.0,464.9 1145.0,448.8 1146.5,456.0 1148.0,466.8 1149.5,486.1 1151.0,503.8 1153.0,480.6 1155.0,458.8 1156.5,461.6 1158.0,461.8 1159.5,466.9 1161.0,473.8 1162.5,467.6 1164.0,458.8 1165.5,460.2 1167.0,463.8 1168.5,467.0 1170.0,466.8 1172.5,518.8 1174.2,496.1 1176.0,476.8 1177.7,471.2 1179.3,461.7 1181.0,456.8 1183.0,463.3 1185.0,466.8 1187.0,478.4 1189.0,491.8 1191.0,506.8 1193.0,494.1 1195.0,476.8 1197.0,470.7 1199.0,466.8 1201.0,451.3 1203.0,433.8 1204.5,449.4 1206.0,466.8 1207.5,483.6 1209.0,496.8 1210.8,487.1 1212.5,481.8 1214.2,478.8 1216.0,471.8 1218.0,478.9 1220.0,488.8 1222.0,481.5 1224.0,471.8 1225.8,474.6 1227.5,478.8 1229.0,506.8 1230.8,491.1 1232.5,471.8 1234.2,466.1 1236.0,463.8 1238.0,472.6 1240.0,478.8 1242.0,467.0 1244.0,458.8 1245.5,461.8 1247.0,461.8 1249.0,468.0 1251.0,478.8 1253.0,499.8 1255.0,516.8 1257.0,495.7 1259.0,476.8 1260.5,480.5 1262.0,479.8 1264.0,477.5 1266.0,476.8 1268.0,483.4 1270.0,486.8 1272.0,496.4 1274.0,508.8 1276.0,508.8 1278.0,493.9 1280.0,476.8 1281.5,482.0 1283.0,488.8 1284.5,474.8 1286.0,456.8 1288.0,473.6 1290.0,491.8 1292.0,476.9 1294.0,458.8 1295.5,455.5 1297.0,456.8 1298.5,455.3 1300.0,451.8 1302.0,461.7 1304.0,473.8 1305.8,468.0 1307.5,458.8 1309.2,466.2 1311.0,476.8 1313.0,471.1 1315.0,461.8 1317.0,474.7 1319.0,491.8 1320.8,501.3 1322.5,508.8 1324.2,491.6 1326.0,476.8 1328.0,473.0 1330.0,466.8 1332.0,469.5 1334.0,473.8 1335.8,483.5 1337.5,488.8 1339.2,471.8 1341.0,458.8 1343.0,475.7 1345.0,488.8 1347.0,472.1 1349.0,456.8 1350.5,466.4 1352.0,471.8 1354.0,464.8 1356.0,461.8 1358.0,469.3 1360.0,473.8 1362.0,465.8 1364.0,461.8 1365.5,468.3 1367.0,471.8 1368.5,458.2 1370.0,446.8 1372.0,486.8 1373.5,502.7 1375.0,516.8 1377.0,498.2 1379.0,481.8 1381.0,485.1 1383.0,486.8 1384.5,490.5 1386.0,498.8 1387.5,501.8 1389.2,503.9 1390.8,511.9 1392.5,513.8 1394.2,510.2 1395.8,511.6 1397.5,508.8 1399.2,504.8 1400.8,505.6 1402.5,501.8 1404.2,487.3 1406.0,476.8 1408.0,470.9 1410.0,461.8 1412.0,455.6 1414.0,451.8 1415.8,459.6 1417.5,463.8 1420.0,458.8 1422.5,466.8 1424.2,469.5 1426.0,476.8 1427.8,488.9 1429.5,498.8 1431.0,488.1 1432.5,481.8 1434.2,483.5 1436.0,483.8 1438.0,484.1 1440.0,486.8 1442.5,501.8 1444.2,490.4 1446.0,476.8 1448.0,476.3 1450.0,479.8 1452.0,484.1 1454.0,483.8 1455.8,499.3 1457.5,518.8 1459.2,504.1 1461.0,486.8 1463.0,470.6 1465.0,458.8 1467.0,464.1 1469.0,466.8 1470.8,460.7 1472.5,456.8 1474.2,464.0 1476.0,466.8 1478.0,461.0 1480.0,458.8 1481.5,462.2 1483.0,461.8 1484.5,454.5 1486.0,450.8 1488.0,466.2 1490.0,476.8 1492.0,480.3 1494.0,486.8 1495.5,486.4 1497.0,481.8 1499.0,483.4 1501.0,488.8 1502.5,493.5 1504.0,493.8 1505.8,494.8 1507.5,498.8 1509.2,495.7 1511.0,488.8 1513.0,481.1 1515.0,476.8 1517.0,483.0 1519.0,486.8 1520.8,485.7 1522.5,486.8 1524.2,498.6 1526.0,506.8 1528.0,500.9 1530.0,496.8 1531.7,494.7 1533.3,487.2 1535.0,483.8 1537.0,489.6 1539.0,493.8 1540.8,496.9 1542.5,501.8 1544.2,511.6 1546.0,516.8 1548.0,505.5 1550.0,496.8 1552.0,502.8 1554.0,506.8 1555.8,509.5 1557.5,513.8 1560.0,518.8 1562.0,514.6 1564.0,508.8 1565.8,509.4 1567.5,513.8 1569.2,521.3 1570.8,523.2 1572.5,530.8 1574.2,523.3 1576.0,511.8 1578.0,507.0 1580.0,503.8 1581.7,501.5 1583.3,494.5 1585.0,491.8 1587.0,501.4 1589.0,506.8 1590.8,505.7 1592.5,508.8 1594.2,505.0 1596.0,496.8 1598.0,493.5 1600.0,491.8 1602.0,487.5 1604.0,478.8 1605.5,488.0 1607.0,501.8 1608.5,514.1 1610.0,521.8 1612.0,511.9 1614.0,503.8 1615.7,504.2 1617.3,501.6 1619.0,501.8 1621.0,508.6 1623.0,513.8 1624.5,508.3 1626.0,509.2 1627.5,503.8 1629.2,513.5 1631.0,526.8 1633.0,522.4 1635.0,513.8 1636.7,504.7 1638.3,500.3 1640.0,491.8 1642.0,504.4 1644.0,518.8 1645.8,507.2 1647.5,493.8 1649.2,501.8 1651.0,513.8 1652.5,504.9 1654.0,493.8 1655.8,510.0 1657.5,528.8 1659.2,516.7 1661.0,501.8 1662.6,499.0 1664.2,499.0 1665.9,494.6 1667.5,493.8 1669.2,497.2 1671.0,496.8 1672.7,503.8 1674.3,514.7 1676.0,521.8 1678.0,517.0 1680.0,516.8 1682.5,501.8 1684.2,511.9 1686.0,518.8 1688.0,520.6 1690.0,526.8 1692.0,524.6 1694.0,518.8 1695.8,528.0 1697.5,538.8 1700.0,503.8 1701.5,499.2 1703.0,491.8 1704.5,498.8 1706.0,508.8 1708.0,507.3 1710.0,501.8 1711.7,498.8 1713.3,500.4 1715.0,496.8 1717.0,502.7 1719.0,511.8 1720.8,517.9 1722.5,521.8 1724.0,525.6 1725.5,533.8 1727.2,523.7 1729.0,511.8 1730.8,519.7 1732.5,531.8 1734.2,522.8 1736.0,511.8 1738.0,506.1 1740.0,501.8 1742.0,505.4 1744.0,506.8 1745.8,510.8 1747.5,518.8 1749.2,520.2 1751.0,516.8 1753.0,523.6 1755.0,531.8"/>
</g>
<!-- /DATA -->
<g id="frame" fill="#000">
<rect x="252.2" y="51.7" width="1675.5" height="10.1"/>
<rect x="252.2" y="51.7" width="9.6" height="1351.4"/>
<rect x="1917.1" y="51.7" width="10.6" height="1351.4"/>
<rect x="252.2" y="1394.1" width="1675.5" height="9"/>
</g>
<g id="ticks" stroke="#000" stroke-width="9" fill="none">

<path d="M257,459.3H269.5M257,862.2H283M257,1265H269.5"/>
<path d="M423.5,1398.5V1385.5M590.1,1398.5V1372.5M756.6,1398.5V1385.5M923.2,1398.5V1372.5M1089.7,1398.5V1385.5M1256.2,1398.5V1372.5M1422.8,1398.5V1385.5M1589.3,1398.5V1372.5M1755.9,1398.5V1385.5"/>
</g>
<g font-size="85" text-anchor="middle">
<text x="257" y="1491">0</text>
<text x="589.5" y="1491">200</text>
<text x="922.5" y="1491">400</text>
<text x="1256" y="1491">600</text>
<text x="1589" y="1491">800</text>
<text x="1922" y="1491">1000</text>
</g>
<g font-size="85" text-anchor="end">
<text x="230" y="82.5">0.6</text>
<text x="230" y="887">0.3</text>
</g>
<text transform="translate(1088.6,1588) scale(0.97,1)" font-size="91" text-anchor="middle">Time/s</text>
<text transform="translate(92,727.5) rotate(-90)" font-size="89" text-anchor="middle">Friction Coeffcient</text>
<g font-size="71">
<text x="1805" y="334">1</text>
<text x="1805" y="449">3</text>
<text x="1808" y="565">2</text>
</g>
<g font-size="71" transform="translate(1277.5,0) scale(0.989,1)">
<text x="0" y="945">1-TiB<tspan font-size="48" dy="18">2</tspan><tspan dy="-18"> coating</tspan></text>
<text x="0" y="1048">2-TiB<tspan font-size="48" dy="18">2</tspan><tspan dy="-18">-4.26 at.%Ni</tspan></text>
<text x="0" y="1150">3-TiB2-32.22 at.% Ni</text>
</g>
</svg>
</body></html>
